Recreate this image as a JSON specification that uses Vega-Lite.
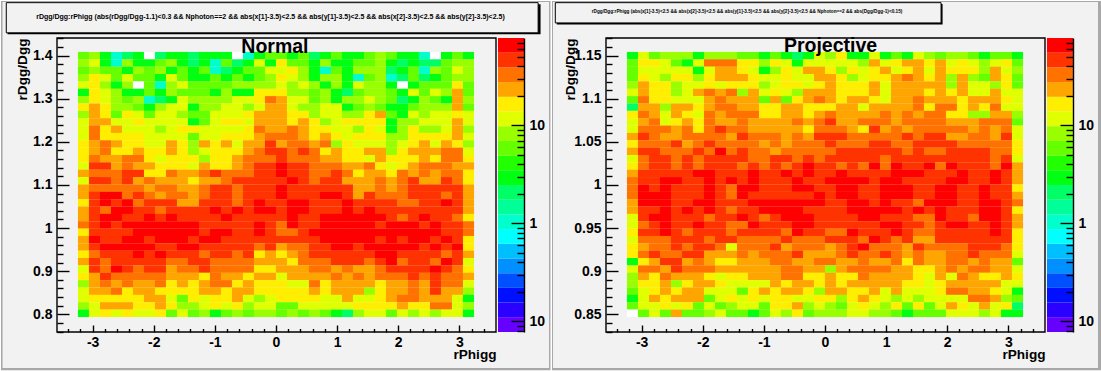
{"$schema":"https://vega.github.io/schema/vega-lite/v6.json","background":"#ffffff","padding":0,"bounds":"flush","spacing":2,
"config":{"view":{"stroke":null},"axis":{"grid":false,"domain":false,"labelFont":"Liberation Sans","labelFontWeight":"bold","labelFontSize":14,"labelColor":"#000","tickColor":"#000","tickWidth":1.4,"titleFont":"Liberation Sans","titleFontWeight":"bold","titleFontSize":13.6,"titleColor":"#000"}},
"datasets":{"one":[{"k":1}],
"a":[
{"i":0,"j":35,"v":6},{"i":1,"j":35,"v":8},{"i":2,"j":35,"v":3},{"i":3,"j":35,"v":1},{"i":4,"j":35,"v":2},{"i":5,"j":35,"v":3},{"i":6,"j":35,"v":0},{"i":7,"j":35,"v":2},{"i":8,"j":35,"v":3},{"i":9,"j":35,"v":3},{"i":10,"j":35,"v":2},{"i":11,"j":35,"v":3},{"i":12,"j":35,"v":3},{"i":13,"j":35,"v":3},{"i":14,"j":35,"v":0},{"i":15,"j":35,"v":1},{"i":16,"j":35,"v":3},{"i":17,"j":35,"v":6},{"i":18,"j":35,"v":6},{"i":19,"j":35,"v":3},{"i":20,"j":35,"v":6},{"i":21,"j":35,"v":2},{"i":22,"j":35,"v":3},{"i":23,"j":35,"v":6},{"i":24,"j":35,"v":3},{"i":25,"j":35,"v":3},{"i":26,"j":35,"v":6},{"i":27,"j":35,"v":8},{"i":28,"j":35,"v":6},{"i":29,"j":35,"v":3},{"i":30,"j":35,"v":3},{"i":31,"j":35,"v":1},{"i":32,"j":35,"v":0},{"i":33,"j":35,"v":3},{"i":34,"j":35,"v":6},{"i":35,"j":35,"v":3},
{"i":0,"j":34,"v":8},{"i":1,"j":34,"v":12},{"i":2,"j":34,"v":3},{"i":3,"j":34,"v":1},{"i":4,"j":34,"v":8},{"i":5,"j":34,"v":3},{"i":6,"j":34,"v":3},{"i":7,"j":34,"v":6},{"i":8,"j":34,"v":8},{"i":9,"j":34,"v":3},{"i":10,"j":34,"v":2},{"i":11,"j":34,"v":3},{"i":12,"j":34,"v":1},{"i":13,"j":34,"v":6},{"i":14,"j":34,"v":2},{"i":15,"j":34,"v":3},{"i":16,"j":34,"v":12},{"i":17,"j":34,"v":3},{"i":18,"j":34,"v":16},{"i":19,"j":34,"v":6},{"i":20,"j":34,"v":6},{"i":21,"j":34,"v":3},{"i":22,"j":34,"v":8},{"i":23,"j":34,"v":3},{"i":24,"j":34,"v":3},{"i":25,"j":34,"v":6},{"i":26,"j":34,"v":6},{"i":27,"j":34,"v":8},{"i":28,"j":34,"v":3},{"i":29,"j":34,"v":2},{"i":30,"j":34,"v":3},{"i":31,"j":34,"v":2},{"i":32,"j":34,"v":2},{"i":33,"j":34,"v":6},{"i":34,"j":34,"v":8},{"i":35,"j":34,"v":8},
{"i":0,"j":33,"v":6},{"i":1,"j":33,"v":8},{"i":2,"j":33,"v":6},{"i":3,"j":33,"v":6},{"i":4,"j":33,"v":3},{"i":5,"j":33,"v":8},{"i":6,"j":33,"v":6},{"i":7,"j":33,"v":8},{"i":8,"j":33,"v":3},{"i":9,"j":33,"v":6},{"i":10,"j":33,"v":3},{"i":11,"j":33,"v":6},{"i":12,"j":33,"v":1},{"i":13,"j":33,"v":2},{"i":14,"j":33,"v":3},{"i":15,"j":33,"v":6},{"i":16,"j":33,"v":6},{"i":17,"j":33,"v":12},{"i":18,"j":33,"v":12},{"i":19,"j":33,"v":16},{"i":20,"j":33,"v":8},{"i":21,"j":33,"v":3},{"i":22,"j":33,"v":1},{"i":23,"j":33,"v":6},{"i":24,"j":33,"v":3},{"i":25,"j":33,"v":8},{"i":26,"j":33,"v":8},{"i":27,"j":33,"v":8},{"i":28,"j":33,"v":2},{"i":29,"j":33,"v":3},{"i":30,"j":33,"v":6},{"i":31,"j":33,"v":1},{"i":32,"j":33,"v":8},{"i":33,"j":33,"v":6},{"i":34,"j":33,"v":12},{"i":35,"j":33,"v":8},
{"i":0,"j":32,"v":8},{"i":1,"j":32,"v":16},{"i":2,"j":32,"v":12},{"i":3,"j":32,"v":6},{"i":4,"j":32,"v":12},{"i":5,"j":32,"v":6},{"i":6,"j":32,"v":6},{"i":7,"j":32,"v":3},{"i":8,"j":32,"v":12},{"i":9,"j":32,"v":6},{"i":10,"j":32,"v":3},{"i":11,"j":32,"v":3},{"i":12,"j":32,"v":6},{"i":13,"j":32,"v":3},{"i":14,"j":32,"v":6},{"i":15,"j":32,"v":3},{"i":16,"j":32,"v":6},{"i":17,"j":32,"v":8},{"i":18,"j":32,"v":16},{"i":19,"j":32,"v":12},{"i":20,"j":32,"v":8},{"i":21,"j":32,"v":3},{"i":22,"j":32,"v":8},{"i":23,"j":32,"v":8},{"i":24,"j":32,"v":3},{"i":25,"j":32,"v":1},{"i":26,"j":32,"v":6},{"i":27,"j":32,"v":8},{"i":28,"j":32,"v":1},{"i":29,"j":32,"v":2},{"i":30,"j":32,"v":6},{"i":31,"j":32,"v":2},{"i":32,"j":32,"v":3},{"i":33,"j":32,"v":6},{"i":34,"j":32,"v":8},{"i":35,"j":32,"v":8},
{"i":0,"j":31,"v":12},{"i":1,"j":31,"v":16},{"i":2,"j":31,"v":8},{"i":3,"j":31,"v":3},{"i":4,"j":31,"v":8},{"i":5,"j":31,"v":0},{"i":6,"j":31,"v":6},{"i":7,"j":31,"v":1},{"i":8,"j":31,"v":8},{"i":9,"j":31,"v":12},{"i":10,"j":31,"v":6},{"i":11,"j":31,"v":6},{"i":12,"j":31,"v":6},{"i":13,"j":31,"v":6},{"i":14,"j":31,"v":8},{"i":15,"j":31,"v":8},{"i":16,"j":31,"v":8},{"i":17,"j":31,"v":8},{"i":18,"j":31,"v":12},{"i":19,"j":31,"v":8},{"i":20,"j":31,"v":12},{"i":21,"j":31,"v":8},{"i":22,"j":31,"v":3},{"i":23,"j":31,"v":8},{"i":24,"j":31,"v":3},{"i":25,"j":31,"v":12},{"i":26,"j":31,"v":8},{"i":27,"j":31,"v":8},{"i":28,"j":31,"v":3},{"i":29,"j":31,"v":0},{"i":30,"j":31,"v":3},{"i":31,"j":31,"v":6},{"i":32,"j":31,"v":6},{"i":33,"j":31,"v":6},{"i":34,"j":31,"v":16},{"i":35,"j":31,"v":6},
{"i":0,"j":30,"v":3},{"i":1,"j":30,"v":16},{"i":2,"j":30,"v":12},{"i":3,"j":30,"v":8},{"i":4,"j":30,"v":3},{"i":5,"j":30,"v":3},{"i":6,"j":30,"v":6},{"i":7,"j":30,"v":3},{"i":8,"j":30,"v":8},{"i":9,"j":30,"v":6},{"i":10,"j":30,"v":6},{"i":11,"j":30,"v":6},{"i":12,"j":30,"v":3},{"i":13,"j":30,"v":8},{"i":14,"j":30,"v":3},{"i":15,"j":30,"v":3},{"i":16,"j":30,"v":16},{"i":17,"j":30,"v":16},{"i":18,"j":30,"v":16},{"i":19,"j":30,"v":8},{"i":20,"j":30,"v":8},{"i":21,"j":30,"v":6},{"i":22,"j":30,"v":8},{"i":23,"j":30,"v":3},{"i":24,"j":30,"v":2},{"i":25,"j":30,"v":6},{"i":26,"j":30,"v":8},{"i":27,"j":30,"v":8},{"i":28,"j":30,"v":6},{"i":29,"j":30,"v":3},{"i":30,"j":30,"v":12},{"i":31,"j":30,"v":6},{"i":32,"j":30,"v":12},{"i":33,"j":30,"v":8},{"i":34,"j":30,"v":23},{"i":35,"j":30,"v":6},
{"i":0,"j":29,"v":8},{"i":1,"j":29,"v":16},{"i":2,"j":29,"v":12},{"i":3,"j":29,"v":8},{"i":4,"j":29,"v":6},{"i":5,"j":29,"v":8},{"i":6,"j":29,"v":1},{"i":7,"j":29,"v":2},{"i":8,"j":29,"v":3},{"i":9,"j":29,"v":12},{"i":10,"j":29,"v":8},{"i":11,"j":29,"v":8},{"i":12,"j":29,"v":8},{"i":13,"j":29,"v":8},{"i":14,"j":29,"v":12},{"i":15,"j":29,"v":12},{"i":16,"j":29,"v":16},{"i":17,"j":29,"v":33},{"i":18,"j":29,"v":23},{"i":19,"j":29,"v":12},{"i":20,"j":29,"v":12},{"i":21,"j":29,"v":6},{"i":22,"j":29,"v":8},{"i":23,"j":29,"v":3},{"i":24,"j":29,"v":8},{"i":25,"j":29,"v":8},{"i":26,"j":29,"v":12},{"i":27,"j":29,"v":8},{"i":28,"j":29,"v":6},{"i":29,"j":29,"v":2},{"i":30,"j":29,"v":3},{"i":31,"j":29,"v":8},{"i":32,"j":29,"v":6},{"i":33,"j":29,"v":3},{"i":34,"j":29,"v":23},{"i":35,"j":29,"v":8},
{"i":0,"j":28,"v":16},{"i":1,"j":28,"v":23},{"i":2,"j":28,"v":16},{"i":3,"j":28,"v":8},{"i":4,"j":28,"v":8},{"i":5,"j":28,"v":6},{"i":6,"j":28,"v":3},{"i":7,"j":28,"v":8},{"i":8,"j":28,"v":12},{"i":9,"j":28,"v":12},{"i":10,"j":28,"v":3},{"i":11,"j":28,"v":8},{"i":12,"j":28,"v":8},{"i":13,"j":28,"v":12},{"i":14,"j":28,"v":12},{"i":15,"j":28,"v":8},{"i":16,"j":28,"v":12},{"i":17,"j":28,"v":23},{"i":18,"j":28,"v":23},{"i":19,"j":28,"v":12},{"i":20,"j":28,"v":8},{"i":21,"j":28,"v":8},{"i":22,"j":28,"v":12},{"i":23,"j":28,"v":12},{"i":24,"j":28,"v":3},{"i":25,"j":28,"v":6},{"i":26,"j":28,"v":8},{"i":27,"j":28,"v":6},{"i":28,"j":28,"v":3},{"i":29,"j":28,"v":3},{"i":30,"j":28,"v":6},{"i":31,"j":28,"v":8},{"i":32,"j":28,"v":8},{"i":33,"j":28,"v":8},{"i":34,"j":28,"v":23},{"i":35,"j":28,"v":6},
{"i":0,"j":27,"v":8},{"i":1,"j":27,"v":23},{"i":2,"j":27,"v":16},{"i":3,"j":27,"v":6},{"i":4,"j":27,"v":16},{"i":5,"j":27,"v":12},{"i":6,"j":27,"v":6},{"i":7,"j":27,"v":12},{"i":8,"j":27,"v":12},{"i":9,"j":27,"v":8},{"i":10,"j":27,"v":6},{"i":11,"j":27,"v":6},{"i":12,"j":27,"v":12},{"i":13,"j":27,"v":12},{"i":14,"j":27,"v":12},{"i":15,"j":27,"v":16},{"i":16,"j":27,"v":23},{"i":17,"j":27,"v":23},{"i":18,"j":27,"v":23},{"i":19,"j":27,"v":16},{"i":20,"j":27,"v":16},{"i":21,"j":27,"v":8},{"i":22,"j":27,"v":12},{"i":23,"j":27,"v":12},{"i":24,"j":27,"v":8},{"i":25,"j":27,"v":8},{"i":26,"j":27,"v":16},{"i":27,"j":27,"v":23},{"i":28,"j":27,"v":6},{"i":29,"j":27,"v":3},{"i":30,"j":27,"v":12},{"i":31,"j":27,"v":8},{"i":32,"j":27,"v":12},{"i":33,"j":27,"v":12},{"i":34,"j":27,"v":16},{"i":35,"j":27,"v":12},
{"i":0,"j":26,"v":12},{"i":1,"j":26,"v":23},{"i":2,"j":26,"v":23},{"i":3,"j":26,"v":12},{"i":4,"j":26,"v":12},{"i":5,"j":26,"v":16},{"i":6,"j":26,"v":12},{"i":7,"j":26,"v":12},{"i":8,"j":26,"v":12},{"i":9,"j":26,"v":12},{"i":10,"j":26,"v":3},{"i":11,"j":26,"v":6},{"i":12,"j":26,"v":12},{"i":13,"j":26,"v":16},{"i":14,"j":26,"v":16},{"i":15,"j":26,"v":12},{"i":16,"j":26,"v":23},{"i":17,"j":26,"v":23},{"i":18,"j":26,"v":23},{"i":19,"j":26,"v":16},{"i":20,"j":26,"v":23},{"i":21,"j":26,"v":16},{"i":22,"j":26,"v":8},{"i":23,"j":26,"v":12},{"i":24,"j":26,"v":16},{"i":25,"j":26,"v":16},{"i":26,"j":26,"v":16},{"i":27,"j":26,"v":16},{"i":28,"j":26,"v":3},{"i":29,"j":26,"v":8},{"i":30,"j":26,"v":8},{"i":31,"j":26,"v":12},{"i":32,"j":26,"v":12},{"i":33,"j":26,"v":12},{"i":34,"j":26,"v":23},{"i":35,"j":26,"v":12},
{"i":0,"j":25,"v":12},{"i":1,"j":25,"v":33},{"i":2,"j":25,"v":16},{"i":3,"j":25,"v":23},{"i":4,"j":25,"v":12},{"i":5,"j":25,"v":12},{"i":6,"j":25,"v":12},{"i":7,"j":25,"v":8},{"i":8,"j":25,"v":12},{"i":9,"j":25,"v":16},{"i":10,"j":25,"v":16},{"i":11,"j":25,"v":12},{"i":12,"j":25,"v":12},{"i":13,"j":25,"v":12},{"i":14,"j":25,"v":12},{"i":15,"j":25,"v":16},{"i":16,"j":25,"v":33},{"i":17,"j":25,"v":23},{"i":18,"j":25,"v":23},{"i":19,"j":25,"v":33},{"i":20,"j":25,"v":23},{"i":21,"j":25,"v":16},{"i":22,"j":25,"v":16},{"i":23,"j":25,"v":12},{"i":24,"j":25,"v":12},{"i":25,"j":25,"v":8},{"i":26,"j":25,"v":16},{"i":27,"j":25,"v":12},{"i":28,"j":25,"v":3},{"i":29,"j":25,"v":8},{"i":30,"j":25,"v":16},{"i":31,"j":25,"v":8},{"i":32,"j":25,"v":8},{"i":33,"j":25,"v":12},{"i":34,"j":25,"v":23},{"i":35,"j":25,"v":8},
{"i":0,"j":24,"v":12},{"i":1,"j":24,"v":33},{"i":2,"j":24,"v":16},{"i":3,"j":24,"v":16},{"i":4,"j":24,"v":16},{"i":5,"j":24,"v":16},{"i":6,"j":24,"v":12},{"i":7,"j":24,"v":12},{"i":8,"j":24,"v":12},{"i":9,"j":24,"v":12},{"i":10,"j":24,"v":6},{"i":11,"j":24,"v":12},{"i":12,"j":24,"v":12},{"i":13,"j":24,"v":16},{"i":14,"j":24,"v":16},{"i":15,"j":24,"v":16},{"i":16,"j":24,"v":23},{"i":17,"j":24,"v":33},{"i":18,"j":24,"v":33},{"i":19,"j":24,"v":33},{"i":20,"j":24,"v":23},{"i":21,"j":24,"v":16},{"i":22,"j":24,"v":23},{"i":23,"j":24,"v":16},{"i":24,"j":24,"v":12},{"i":25,"j":24,"v":16},{"i":26,"j":24,"v":16},{"i":27,"j":24,"v":16},{"i":28,"j":24,"v":8},{"i":29,"j":24,"v":8},{"i":30,"j":24,"v":16},{"i":31,"j":24,"v":16},{"i":32,"j":24,"v":16},{"i":33,"j":24,"v":16},{"i":34,"j":24,"v":23},{"i":35,"j":24,"v":12},
{"i":0,"j":23,"v":16},{"i":1,"j":23,"v":23},{"i":2,"j":23,"v":33},{"i":3,"j":23,"v":23},{"i":4,"j":23,"v":16},{"i":5,"j":23,"v":16},{"i":6,"j":23,"v":12},{"i":7,"j":23,"v":12},{"i":8,"j":23,"v":23},{"i":9,"j":23,"v":16},{"i":10,"j":23,"v":8},{"i":11,"j":23,"v":23},{"i":12,"j":23,"v":16},{"i":13,"j":23,"v":23},{"i":14,"j":23,"v":12},{"i":15,"j":23,"v":23},{"i":16,"j":23,"v":23},{"i":17,"j":23,"v":47},{"i":18,"j":23,"v":23},{"i":19,"j":23,"v":33},{"i":20,"j":23,"v":33},{"i":21,"j":23,"v":23},{"i":22,"j":23,"v":33},{"i":23,"j":23,"v":8},{"i":24,"j":23,"v":16},{"i":25,"j":23,"v":12},{"i":26,"j":23,"v":12},{"i":27,"j":23,"v":12},{"i":28,"j":23,"v":8},{"i":29,"j":23,"v":12},{"i":30,"j":23,"v":16},{"i":31,"j":23,"v":23},{"i":32,"j":23,"v":12},{"i":33,"j":23,"v":23},{"i":34,"j":23,"v":16},{"i":35,"j":23,"v":8},
{"i":0,"j":22,"v":16},{"i":1,"j":22,"v":23},{"i":2,"j":22,"v":33},{"i":3,"j":22,"v":16},{"i":4,"j":22,"v":16},{"i":5,"j":22,"v":23},{"i":6,"j":22,"v":16},{"i":7,"j":22,"v":16},{"i":8,"j":22,"v":23},{"i":9,"j":22,"v":16},{"i":10,"j":22,"v":8},{"i":11,"j":22,"v":12},{"i":12,"j":22,"v":16},{"i":13,"j":22,"v":16},{"i":14,"j":22,"v":16},{"i":15,"j":22,"v":23},{"i":16,"j":22,"v":33},{"i":17,"j":22,"v":47},{"i":18,"j":22,"v":47},{"i":19,"j":22,"v":33},{"i":20,"j":22,"v":47},{"i":21,"j":22,"v":33},{"i":22,"j":22,"v":16},{"i":23,"j":22,"v":23},{"i":24,"j":22,"v":16},{"i":25,"j":22,"v":16},{"i":26,"j":22,"v":23},{"i":27,"j":22,"v":23},{"i":28,"j":22,"v":8},{"i":29,"j":22,"v":16},{"i":30,"j":22,"v":23},{"i":31,"j":22,"v":23},{"i":32,"j":22,"v":23},{"i":33,"j":22,"v":33},{"i":34,"j":22,"v":33},{"i":35,"j":22,"v":12},
{"i":0,"j":21,"v":16},{"i":1,"j":21,"v":33},{"i":2,"j":21,"v":23},{"i":3,"j":21,"v":23},{"i":4,"j":21,"v":33},{"i":5,"j":21,"v":33},{"i":6,"j":21,"v":16},{"i":7,"j":21,"v":12},{"i":8,"j":21,"v":16},{"i":9,"j":21,"v":16},{"i":10,"j":21,"v":16},{"i":11,"j":21,"v":8},{"i":12,"j":21,"v":16},{"i":13,"j":21,"v":16},{"i":14,"j":21,"v":23},{"i":15,"j":21,"v":33},{"i":16,"j":21,"v":33},{"i":17,"j":21,"v":33},{"i":18,"j":21,"v":47},{"i":19,"j":21,"v":33},{"i":20,"j":21,"v":33},{"i":21,"j":21,"v":33},{"i":22,"j":21,"v":23},{"i":23,"j":21,"v":23},{"i":24,"j":21,"v":16},{"i":25,"j":21,"v":16},{"i":26,"j":21,"v":12},{"i":27,"j":21,"v":23},{"i":28,"j":21,"v":16},{"i":29,"j":21,"v":16},{"i":30,"j":21,"v":16},{"i":31,"j":21,"v":23},{"i":32,"j":21,"v":16},{"i":33,"j":21,"v":33},{"i":34,"j":21,"v":33},{"i":35,"j":21,"v":16},
{"i":0,"j":20,"v":12},{"i":1,"j":20,"v":47},{"i":2,"j":20,"v":47},{"i":3,"j":20,"v":23},{"i":4,"j":20,"v":33},{"i":5,"j":20,"v":23},{"i":6,"j":20,"v":23},{"i":7,"j":20,"v":16},{"i":8,"j":20,"v":16},{"i":9,"j":20,"v":16},{"i":10,"j":20,"v":12},{"i":11,"j":20,"v":23},{"i":12,"j":20,"v":16},{"i":13,"j":20,"v":16},{"i":14,"j":20,"v":23},{"i":15,"j":20,"v":33},{"i":16,"j":20,"v":47},{"i":17,"j":20,"v":47},{"i":18,"j":20,"v":66},{"i":19,"j":20,"v":47},{"i":20,"j":20,"v":47},{"i":21,"j":20,"v":33},{"i":22,"j":20,"v":33},{"i":23,"j":20,"v":33},{"i":24,"j":20,"v":23},{"i":25,"j":20,"v":23},{"i":26,"j":20,"v":33},{"i":27,"j":20,"v":16},{"i":28,"j":20,"v":12},{"i":29,"j":20,"v":16},{"i":30,"j":20,"v":23},{"i":31,"j":20,"v":33},{"i":32,"j":20,"v":33},{"i":33,"j":20,"v":33},{"i":34,"j":20,"v":23},{"i":35,"j":20,"v":23},
{"i":0,"j":19,"v":23},{"i":1,"j":19,"v":33},{"i":2,"j":19,"v":33},{"i":3,"j":19,"v":33},{"i":4,"j":19,"v":47},{"i":5,"j":19,"v":47},{"i":6,"j":19,"v":16},{"i":7,"j":19,"v":16},{"i":8,"j":19,"v":33},{"i":9,"j":19,"v":23},{"i":10,"j":19,"v":23},{"i":11,"j":19,"v":33},{"i":12,"j":19,"v":47},{"i":13,"j":19,"v":33},{"i":14,"j":19,"v":33},{"i":15,"j":19,"v":33},{"i":16,"j":19,"v":47},{"i":17,"j":19,"v":47},{"i":18,"j":19,"v":66},{"i":19,"j":19,"v":47},{"i":20,"j":19,"v":47},{"i":21,"j":19,"v":33},{"i":22,"j":19,"v":33},{"i":23,"j":19,"v":47},{"i":24,"j":19,"v":33},{"i":25,"j":19,"v":16},{"i":26,"j":19,"v":23},{"i":27,"j":19,"v":23},{"i":28,"j":19,"v":16},{"i":29,"j":19,"v":33},{"i":30,"j":19,"v":23},{"i":31,"j":19,"v":33},{"i":32,"j":19,"v":23},{"i":33,"j":19,"v":33},{"i":34,"j":19,"v":33},{"i":35,"j":19,"v":16},
{"i":0,"j":18,"v":12},{"i":1,"j":18,"v":47},{"i":2,"j":18,"v":47},{"i":3,"j":18,"v":33},{"i":4,"j":18,"v":47},{"i":5,"j":18,"v":23},{"i":6,"j":18,"v":33},{"i":7,"j":18,"v":23},{"i":8,"j":18,"v":23},{"i":9,"j":18,"v":23},{"i":10,"j":18,"v":16},{"i":11,"j":18,"v":23},{"i":12,"j":18,"v":23},{"i":13,"j":18,"v":33},{"i":14,"j":18,"v":47},{"i":15,"j":18,"v":47},{"i":16,"j":18,"v":47},{"i":17,"j":18,"v":47},{"i":18,"j":18,"v":47},{"i":19,"j":18,"v":66},{"i":20,"j":18,"v":47},{"i":21,"j":18,"v":33},{"i":22,"j":18,"v":47},{"i":23,"j":18,"v":47},{"i":24,"j":18,"v":23},{"i":25,"j":18,"v":23},{"i":26,"j":18,"v":23},{"i":27,"j":18,"v":33},{"i":28,"j":18,"v":23},{"i":29,"j":18,"v":33},{"i":30,"j":18,"v":47},{"i":31,"j":18,"v":23},{"i":32,"j":18,"v":23},{"i":33,"j":18,"v":47},{"i":34,"j":18,"v":33},{"i":35,"j":18,"v":16},
{"i":0,"j":17,"v":23},{"i":1,"j":17,"v":33},{"i":2,"j":17,"v":33},{"i":3,"j":17,"v":33},{"i":4,"j":17,"v":33},{"i":5,"j":17,"v":33},{"i":6,"j":17,"v":23},{"i":7,"j":17,"v":33},{"i":8,"j":17,"v":33},{"i":9,"j":17,"v":23},{"i":10,"j":17,"v":23},{"i":11,"j":17,"v":33},{"i":12,"j":17,"v":47},{"i":13,"j":17,"v":47},{"i":14,"j":17,"v":33},{"i":15,"j":17,"v":47},{"i":16,"j":17,"v":47},{"i":17,"j":17,"v":47},{"i":18,"j":17,"v":66},{"i":19,"j":17,"v":47},{"i":20,"j":17,"v":47},{"i":21,"j":17,"v":47},{"i":22,"j":17,"v":47},{"i":23,"j":17,"v":47},{"i":24,"j":17,"v":47},{"i":25,"j":17,"v":23},{"i":26,"j":17,"v":23},{"i":27,"j":17,"v":33},{"i":28,"j":17,"v":23},{"i":29,"j":17,"v":33},{"i":30,"j":17,"v":47},{"i":31,"j":17,"v":47},{"i":32,"j":17,"v":47},{"i":33,"j":17,"v":47},{"i":34,"j":17,"v":47},{"i":35,"j":17,"v":23},
{"i":0,"j":16,"v":23},{"i":1,"j":16,"v":47},{"i":2,"j":16,"v":66},{"i":3,"j":16,"v":66},{"i":4,"j":16,"v":33},{"i":5,"j":16,"v":47},{"i":6,"j":16,"v":33},{"i":7,"j":16,"v":23},{"i":8,"j":16,"v":33},{"i":9,"j":16,"v":33},{"i":10,"j":16,"v":23},{"i":11,"j":16,"v":33},{"i":12,"j":16,"v":47},{"i":13,"j":16,"v":47},{"i":14,"j":16,"v":33},{"i":15,"j":16,"v":47},{"i":16,"j":16,"v":47},{"i":17,"j":16,"v":47},{"i":18,"j":16,"v":66},{"i":19,"j":16,"v":47},{"i":20,"j":16,"v":47},{"i":21,"j":16,"v":47},{"i":22,"j":16,"v":66},{"i":23,"j":16,"v":66},{"i":24,"j":16,"v":47},{"i":25,"j":16,"v":23},{"i":26,"j":16,"v":47},{"i":27,"j":16,"v":33},{"i":28,"j":16,"v":33},{"i":29,"j":16,"v":33},{"i":30,"j":16,"v":47},{"i":31,"j":16,"v":47},{"i":32,"j":16,"v":47},{"i":33,"j":16,"v":33},{"i":34,"j":16,"v":47},{"i":35,"j":16,"v":23},
{"i":0,"j":15,"v":16},{"i":1,"j":15,"v":47},{"i":2,"j":15,"v":66},{"i":3,"j":15,"v":47},{"i":4,"j":15,"v":66},{"i":5,"j":15,"v":33},{"i":6,"j":15,"v":47},{"i":7,"j":15,"v":47},{"i":8,"j":15,"v":47},{"i":9,"j":15,"v":23},{"i":10,"j":15,"v":23},{"i":11,"j":15,"v":47},{"i":12,"j":15,"v":47},{"i":13,"j":15,"v":47},{"i":14,"j":15,"v":33},{"i":15,"j":15,"v":47},{"i":16,"j":15,"v":66},{"i":17,"j":15,"v":47},{"i":18,"j":15,"v":47},{"i":19,"j":15,"v":66},{"i":20,"j":15,"v":66},{"i":21,"j":15,"v":47},{"i":22,"j":15,"v":47},{"i":23,"j":15,"v":47},{"i":24,"j":15,"v":66},{"i":25,"j":15,"v":47},{"i":26,"j":15,"v":47},{"i":27,"j":15,"v":47},{"i":28,"j":15,"v":47},{"i":29,"j":15,"v":33},{"i":30,"j":15,"v":33},{"i":31,"j":15,"v":47},{"i":32,"j":15,"v":47},{"i":33,"j":15,"v":66},{"i":34,"j":15,"v":47},{"i":35,"j":15,"v":23},
{"i":0,"j":14,"v":23},{"i":1,"j":14,"v":47},{"i":2,"j":14,"v":33},{"i":3,"j":14,"v":66},{"i":4,"j":14,"v":66},{"i":5,"j":14,"v":47},{"i":6,"j":14,"v":47},{"i":7,"j":14,"v":33},{"i":8,"j":14,"v":47},{"i":9,"j":14,"v":47},{"i":10,"j":14,"v":47},{"i":11,"j":14,"v":47},{"i":12,"j":14,"v":66},{"i":13,"j":14,"v":47},{"i":14,"j":14,"v":66},{"i":15,"j":14,"v":47},{"i":16,"j":14,"v":66},{"i":17,"j":14,"v":66},{"i":18,"j":14,"v":47},{"i":19,"j":14,"v":66},{"i":20,"j":14,"v":66},{"i":21,"j":14,"v":47},{"i":22,"j":14,"v":47},{"i":23,"j":14,"v":47},{"i":24,"j":14,"v":66},{"i":25,"j":14,"v":47},{"i":26,"j":14,"v":66},{"i":27,"j":14,"v":47},{"i":28,"j":14,"v":47},{"i":29,"j":14,"v":47},{"i":30,"j":14,"v":47},{"i":31,"j":14,"v":47},{"i":32,"j":14,"v":47},{"i":33,"j":14,"v":47},{"i":34,"j":14,"v":47},{"i":35,"j":14,"v":23},
{"i":0,"j":13,"v":23},{"i":1,"j":13,"v":47},{"i":2,"j":13,"v":66},{"i":3,"j":13,"v":66},{"i":4,"j":13,"v":47},{"i":5,"j":13,"v":47},{"i":6,"j":13,"v":66},{"i":7,"j":13,"v":47},{"i":8,"j":13,"v":66},{"i":9,"j":13,"v":47},{"i":10,"j":13,"v":47},{"i":11,"j":13,"v":47},{"i":12,"j":13,"v":47},{"i":13,"j":13,"v":66},{"i":14,"j":13,"v":47},{"i":15,"j":13,"v":47},{"i":16,"j":13,"v":47},{"i":17,"j":13,"v":47},{"i":18,"j":13,"v":47},{"i":19,"j":13,"v":66},{"i":20,"j":13,"v":47},{"i":21,"j":13,"v":47},{"i":22,"j":13,"v":66},{"i":23,"j":13,"v":66},{"i":24,"j":13,"v":66},{"i":25,"j":13,"v":66},{"i":26,"j":13,"v":66},{"i":27,"j":13,"v":66},{"i":28,"j":13,"v":47},{"i":29,"j":13,"v":33},{"i":30,"j":13,"v":47},{"i":31,"j":13,"v":66},{"i":32,"j":13,"v":47},{"i":33,"j":13,"v":47},{"i":34,"j":13,"v":33},{"i":35,"j":13,"v":16},
{"i":0,"j":12,"v":33},{"i":1,"j":12,"v":47},{"i":2,"j":12,"v":66},{"i":3,"j":12,"v":47},{"i":4,"j":12,"v":66},{"i":5,"j":12,"v":66},{"i":6,"j":12,"v":66},{"i":7,"j":12,"v":66},{"i":8,"j":12,"v":66},{"i":9,"j":12,"v":66},{"i":10,"j":12,"v":66},{"i":11,"j":12,"v":47},{"i":12,"j":12,"v":47},{"i":13,"j":12,"v":47},{"i":14,"j":12,"v":47},{"i":15,"j":12,"v":47},{"i":16,"j":12,"v":66},{"i":17,"j":12,"v":47},{"i":18,"j":12,"v":33},{"i":19,"j":12,"v":66},{"i":20,"j":12,"v":47},{"i":21,"j":12,"v":47},{"i":22,"j":12,"v":66},{"i":23,"j":12,"v":66},{"i":24,"j":12,"v":66},{"i":25,"j":12,"v":66},{"i":26,"j":12,"v":66},{"i":27,"j":12,"v":47},{"i":28,"j":12,"v":66},{"i":29,"j":12,"v":66},{"i":30,"j":12,"v":66},{"i":31,"j":12,"v":47},{"i":32,"j":12,"v":66},{"i":33,"j":12,"v":47},{"i":34,"j":12,"v":47},{"i":35,"j":12,"v":33},
{"i":0,"j":11,"v":16},{"i":1,"j":11,"v":47},{"i":2,"j":11,"v":47},{"i":3,"j":11,"v":47},{"i":4,"j":11,"v":47},{"i":5,"j":11,"v":66},{"i":6,"j":11,"v":66},{"i":7,"j":11,"v":66},{"i":8,"j":11,"v":66},{"i":9,"j":11,"v":66},{"i":10,"j":11,"v":66},{"i":11,"j":11,"v":47},{"i":12,"j":11,"v":66},{"i":13,"j":11,"v":66},{"i":14,"j":11,"v":47},{"i":15,"j":11,"v":47},{"i":16,"j":11,"v":66},{"i":17,"j":11,"v":47},{"i":18,"j":11,"v":33},{"i":19,"j":11,"v":33},{"i":20,"j":11,"v":47},{"i":21,"j":11,"v":66},{"i":22,"j":11,"v":66},{"i":23,"j":11,"v":66},{"i":24,"j":11,"v":66},{"i":25,"j":11,"v":66},{"i":26,"j":11,"v":66},{"i":27,"j":11,"v":66},{"i":28,"j":11,"v":66},{"i":29,"j":11,"v":66},{"i":30,"j":11,"v":66},{"i":31,"j":11,"v":66},{"i":32,"j":11,"v":66},{"i":33,"j":11,"v":47},{"i":34,"j":11,"v":47},{"i":35,"j":11,"v":33},
{"i":0,"j":10,"v":23},{"i":1,"j":10,"v":66},{"i":2,"j":10,"v":47},{"i":3,"j":10,"v":47},{"i":4,"j":10,"v":66},{"i":5,"j":10,"v":66},{"i":6,"j":10,"v":47},{"i":7,"j":10,"v":66},{"i":8,"j":10,"v":66},{"i":9,"j":10,"v":66},{"i":10,"j":10,"v":47},{"i":11,"j":10,"v":66},{"i":12,"j":10,"v":66},{"i":13,"j":10,"v":47},{"i":14,"j":10,"v":47},{"i":15,"j":10,"v":47},{"i":16,"j":10,"v":47},{"i":17,"j":10,"v":47},{"i":18,"j":10,"v":47},{"i":19,"j":10,"v":47},{"i":20,"j":10,"v":47},{"i":21,"j":10,"v":47},{"i":22,"j":10,"v":66},{"i":23,"j":10,"v":66},{"i":24,"j":10,"v":66},{"i":25,"j":10,"v":66},{"i":26,"j":10,"v":66},{"i":27,"j":10,"v":47},{"i":28,"j":10,"v":66},{"i":29,"j":10,"v":47},{"i":30,"j":10,"v":66},{"i":31,"j":10,"v":66},{"i":32,"j":10,"v":47},{"i":33,"j":10,"v":66},{"i":34,"j":10,"v":47},{"i":35,"j":10,"v":16},
{"i":0,"j":9,"v":23},{"i":1,"j":9,"v":47},{"i":2,"j":9,"v":66},{"i":3,"j":9,"v":66},{"i":4,"j":9,"v":66},{"i":5,"j":9,"v":66},{"i":6,"j":9,"v":66},{"i":7,"j":9,"v":47},{"i":8,"j":9,"v":47},{"i":9,"j":9,"v":66},{"i":10,"j":9,"v":66},{"i":11,"j":9,"v":47},{"i":12,"j":9,"v":47},{"i":13,"j":9,"v":47},{"i":14,"j":9,"v":47},{"i":15,"j":9,"v":47},{"i":16,"j":9,"v":33},{"i":17,"j":9,"v":47},{"i":18,"j":9,"v":23},{"i":19,"j":9,"v":33},{"i":20,"j":9,"v":33},{"i":21,"j":9,"v":47},{"i":22,"j":9,"v":47},{"i":23,"j":9,"v":66},{"i":24,"j":9,"v":66},{"i":25,"j":9,"v":47},{"i":26,"j":9,"v":66},{"i":27,"j":9,"v":66},{"i":28,"j":9,"v":66},{"i":29,"j":9,"v":66},{"i":30,"j":9,"v":66},{"i":31,"j":9,"v":47},{"i":32,"j":9,"v":66},{"i":33,"j":9,"v":47},{"i":34,"j":9,"v":66},{"i":35,"j":9,"v":16},
{"i":0,"j":8,"v":16},{"i":1,"j":8,"v":33},{"i":2,"j":8,"v":47},{"i":3,"j":8,"v":47},{"i":4,"j":8,"v":47},{"i":5,"j":8,"v":66},{"i":6,"j":8,"v":47},{"i":7,"j":8,"v":66},{"i":8,"j":8,"v":47},{"i":9,"j":8,"v":47},{"i":10,"j":8,"v":47},{"i":11,"j":8,"v":33},{"i":12,"j":8,"v":47},{"i":13,"j":8,"v":47},{"i":14,"j":8,"v":33},{"i":15,"j":8,"v":47},{"i":16,"j":8,"v":16},{"i":17,"j":8,"v":23},{"i":18,"j":8,"v":16},{"i":19,"j":8,"v":23},{"i":20,"j":8,"v":33},{"i":21,"j":8,"v":47},{"i":22,"j":8,"v":47},{"i":23,"j":8,"v":47},{"i":24,"j":8,"v":47},{"i":25,"j":8,"v":47},{"i":26,"j":8,"v":47},{"i":27,"j":8,"v":66},{"i":28,"j":8,"v":66},{"i":29,"j":8,"v":47},{"i":30,"j":8,"v":47},{"i":31,"j":8,"v":47},{"i":32,"j":8,"v":47},{"i":33,"j":8,"v":33},{"i":34,"j":8,"v":47},{"i":35,"j":8,"v":23},
{"i":0,"j":7,"v":23},{"i":1,"j":7,"v":47},{"i":2,"j":7,"v":33},{"i":3,"j":7,"v":47},{"i":4,"j":7,"v":47},{"i":5,"j":7,"v":47},{"i":6,"j":7,"v":47},{"i":7,"j":7,"v":47},{"i":8,"j":7,"v":33},{"i":9,"j":7,"v":33},{"i":10,"j":7,"v":47},{"i":11,"j":7,"v":47},{"i":12,"j":7,"v":33},{"i":13,"j":7,"v":33},{"i":14,"j":7,"v":33},{"i":15,"j":7,"v":33},{"i":16,"j":7,"v":23},{"i":17,"j":7,"v":23},{"i":18,"j":7,"v":23},{"i":19,"j":7,"v":16},{"i":20,"j":7,"v":33},{"i":21,"j":7,"v":33},{"i":22,"j":7,"v":33},{"i":23,"j":7,"v":47},{"i":24,"j":7,"v":47},{"i":25,"j":7,"v":47},{"i":26,"j":7,"v":33},{"i":27,"j":7,"v":47},{"i":28,"j":7,"v":66},{"i":29,"j":7,"v":33},{"i":30,"j":7,"v":47},{"i":31,"j":7,"v":47},{"i":32,"j":7,"v":33},{"i":33,"j":7,"v":66},{"i":34,"j":7,"v":47},{"i":35,"j":7,"v":12},
{"i":0,"j":6,"v":12},{"i":1,"j":6,"v":47},{"i":2,"j":6,"v":33},{"i":3,"j":6,"v":66},{"i":4,"j":6,"v":47},{"i":5,"j":6,"v":33},{"i":6,"j":6,"v":47},{"i":7,"j":6,"v":47},{"i":8,"j":6,"v":23},{"i":9,"j":6,"v":33},{"i":10,"j":6,"v":33},{"i":11,"j":6,"v":47},{"i":12,"j":6,"v":33},{"i":13,"j":6,"v":33},{"i":14,"j":6,"v":33},{"i":15,"j":6,"v":33},{"i":16,"j":6,"v":16},{"i":17,"j":6,"v":16},{"i":18,"j":6,"v":23},{"i":19,"j":6,"v":23},{"i":20,"j":6,"v":23},{"i":21,"j":6,"v":33},{"i":22,"j":6,"v":33},{"i":23,"j":6,"v":23},{"i":24,"j":6,"v":33},{"i":25,"j":6,"v":23},{"i":26,"j":6,"v":23},{"i":27,"j":6,"v":33},{"i":28,"j":6,"v":47},{"i":29,"j":6,"v":47},{"i":30,"j":6,"v":47},{"i":31,"j":6,"v":47},{"i":32,"j":6,"v":66},{"i":33,"j":6,"v":47},{"i":34,"j":6,"v":33},{"i":35,"j":6,"v":16},
{"i":0,"j":5,"v":16},{"i":1,"j":5,"v":23},{"i":2,"j":5,"v":47},{"i":3,"j":5,"v":33},{"i":4,"j":5,"v":33},{"i":5,"j":5,"v":33},{"i":6,"j":5,"v":33},{"i":7,"j":5,"v":33},{"i":8,"j":5,"v":23},{"i":9,"j":5,"v":23},{"i":10,"j":5,"v":23},{"i":11,"j":5,"v":16},{"i":12,"j":5,"v":33},{"i":13,"j":5,"v":23},{"i":14,"j":5,"v":23},{"i":15,"j":5,"v":16},{"i":16,"j":5,"v":23},{"i":17,"j":5,"v":23},{"i":18,"j":5,"v":12},{"i":19,"j":5,"v":23},{"i":20,"j":5,"v":23},{"i":21,"j":5,"v":23},{"i":22,"j":5,"v":23},{"i":23,"j":5,"v":33},{"i":24,"j":5,"v":23},{"i":25,"j":5,"v":33},{"i":26,"j":5,"v":23},{"i":27,"j":5,"v":33},{"i":28,"j":5,"v":33},{"i":29,"j":5,"v":33},{"i":30,"j":5,"v":47},{"i":31,"j":5,"v":33},{"i":32,"j":5,"v":47},{"i":33,"j":5,"v":33},{"i":34,"j":5,"v":33},{"i":35,"j":5,"v":23},
{"i":0,"j":4,"v":8},{"i":1,"j":4,"v":23},{"i":2,"j":4,"v":33},{"i":3,"j":4,"v":23},{"i":4,"j":4,"v":33},{"i":5,"j":4,"v":23},{"i":6,"j":4,"v":23},{"i":7,"j":4,"v":33},{"i":8,"j":4,"v":16},{"i":9,"j":4,"v":23},{"i":10,"j":4,"v":16},{"i":11,"j":4,"v":23},{"i":12,"j":4,"v":33},{"i":13,"j":4,"v":33},{"i":14,"j":4,"v":16},{"i":15,"j":4,"v":23},{"i":16,"j":4,"v":16},{"i":17,"j":4,"v":16},{"i":18,"j":4,"v":16},{"i":19,"j":4,"v":12},{"i":20,"j":4,"v":12},{"i":21,"j":4,"v":33},{"i":22,"j":4,"v":16},{"i":23,"j":4,"v":23},{"i":24,"j":4,"v":23},{"i":25,"j":4,"v":23},{"i":26,"j":4,"v":23},{"i":27,"j":4,"v":16},{"i":28,"j":4,"v":23},{"i":29,"j":4,"v":23},{"i":30,"j":4,"v":33},{"i":31,"j":4,"v":23},{"i":32,"j":4,"v":47},{"i":33,"j":4,"v":33},{"i":34,"j":4,"v":33},{"i":35,"j":4,"v":12},
{"i":0,"j":3,"v":12},{"i":1,"j":3,"v":23},{"i":2,"j":3,"v":23},{"i":3,"j":3,"v":33},{"i":4,"j":3,"v":16},{"i":5,"j":3,"v":23},{"i":6,"j":3,"v":23},{"i":7,"j":3,"v":16},{"i":8,"j":3,"v":16},{"i":9,"j":3,"v":16},{"i":10,"j":3,"v":16},{"i":11,"j":3,"v":23},{"i":12,"j":3,"v":23},{"i":13,"j":3,"v":16},{"i":14,"j":3,"v":23},{"i":15,"j":3,"v":23},{"i":16,"j":3,"v":16},{"i":17,"j":3,"v":16},{"i":18,"j":3,"v":16},{"i":19,"j":3,"v":16},{"i":20,"j":3,"v":16},{"i":21,"j":3,"v":23},{"i":22,"j":3,"v":16},{"i":23,"j":3,"v":23},{"i":24,"j":3,"v":23},{"i":25,"j":3,"v":23},{"i":26,"j":3,"v":8},{"i":27,"j":3,"v":16},{"i":28,"j":3,"v":23},{"i":29,"j":3,"v":23},{"i":30,"j":3,"v":33},{"i":31,"j":3,"v":23},{"i":32,"j":3,"v":47},{"i":33,"j":3,"v":23},{"i":34,"j":3,"v":23},{"i":35,"j":3,"v":8},
{"i":0,"j":2,"v":12},{"i":1,"j":2,"v":16},{"i":2,"j":2,"v":16},{"i":3,"j":2,"v":16},{"i":4,"j":2,"v":16},{"i":5,"j":2,"v":16},{"i":6,"j":2,"v":23},{"i":7,"j":2,"v":23},{"i":8,"j":2,"v":12},{"i":9,"j":2,"v":6},{"i":10,"j":2,"v":16},{"i":11,"j":2,"v":12},{"i":12,"j":2,"v":16},{"i":13,"j":2,"v":16},{"i":14,"j":2,"v":23},{"i":15,"j":2,"v":12},{"i":16,"j":2,"v":8},{"i":17,"j":2,"v":12},{"i":18,"j":2,"v":16},{"i":19,"j":2,"v":16},{"i":20,"j":2,"v":16},{"i":21,"j":2,"v":16},{"i":22,"j":2,"v":12},{"i":23,"j":2,"v":12},{"i":24,"j":2,"v":23},{"i":25,"j":2,"v":12},{"i":26,"j":2,"v":12},{"i":27,"j":2,"v":16},{"i":28,"j":2,"v":23},{"i":29,"j":2,"v":33},{"i":30,"j":2,"v":33},{"i":31,"j":2,"v":23},{"i":32,"j":2,"v":23},{"i":33,"j":2,"v":23},{"i":34,"j":2,"v":12},{"i":35,"j":2,"v":3},
{"i":0,"j":1,"v":8},{"i":1,"j":1,"v":12},{"i":2,"j":1,"v":23},{"i":3,"j":1,"v":23},{"i":4,"j":1,"v":23},{"i":5,"j":1,"v":16},{"i":6,"j":1,"v":16},{"i":7,"j":1,"v":23},{"i":8,"j":1,"v":16},{"i":9,"j":1,"v":8},{"i":10,"j":1,"v":8},{"i":11,"j":1,"v":12},{"i":12,"j":1,"v":16},{"i":13,"j":1,"v":12},{"i":14,"j":1,"v":16},{"i":15,"j":1,"v":8},{"i":16,"j":1,"v":12},{"i":17,"j":1,"v":12},{"i":18,"j":1,"v":6},{"i":19,"j":1,"v":6},{"i":20,"j":1,"v":12},{"i":21,"j":1,"v":12},{"i":22,"j":1,"v":12},{"i":23,"j":1,"v":12},{"i":24,"j":1,"v":12},{"i":25,"j":1,"v":16},{"i":26,"j":1,"v":16},{"i":27,"j":1,"v":16},{"i":28,"j":1,"v":16},{"i":29,"j":1,"v":23},{"i":30,"j":1,"v":16},{"i":31,"j":1,"v":16},{"i":32,"j":1,"v":33},{"i":33,"j":1,"v":33},{"i":34,"j":1,"v":12},{"i":35,"j":1,"v":8},
{"i":0,"j":0,"v":3},{"i":1,"j":0,"v":12},{"i":2,"j":0,"v":16},{"i":3,"j":0,"v":12},{"i":4,"j":0,"v":16},{"i":5,"j":0,"v":12},{"i":6,"j":0,"v":12},{"i":7,"j":0,"v":16},{"i":8,"j":0,"v":6},{"i":9,"j":0,"v":12},{"i":10,"j":0,"v":6},{"i":11,"j":0,"v":8},{"i":12,"j":0,"v":3},{"i":13,"j":0,"v":6},{"i":14,"j":0,"v":8},{"i":15,"j":0,"v":6},{"i":16,"j":0,"v":8},{"i":17,"j":0,"v":8},{"i":18,"j":0,"v":6},{"i":19,"j":0,"v":8},{"i":20,"j":0,"v":6},{"i":21,"j":0,"v":8},{"i":22,"j":0,"v":6},{"i":23,"j":0,"v":3},{"i":24,"j":0,"v":2},{"i":25,"j":0,"v":8},{"i":26,"j":0,"v":12},{"i":27,"j":0,"v":12},{"i":28,"j":0,"v":6},{"i":29,"j":0,"v":12},{"i":30,"j":0,"v":8},{"i":31,"j":0,"v":12},{"i":32,"j":0,"v":8},{"i":33,"j":0,"v":12},{"i":34,"j":0,"v":12},{"i":35,"j":0,"v":3}
],
"b":[
{"i":0,"j":35,"v":3},{"i":1,"j":35,"v":12},{"i":2,"j":35,"v":6},{"i":3,"j":35,"v":8},{"i":4,"j":35,"v":8},{"i":5,"j":35,"v":8},{"i":6,"j":35,"v":3},{"i":7,"j":35,"v":8},{"i":8,"j":35,"v":8},{"i":9,"j":35,"v":8},{"i":10,"j":35,"v":6},{"i":11,"j":35,"v":6},{"i":12,"j":35,"v":3},{"i":13,"j":35,"v":6},{"i":14,"j":35,"v":3},{"i":15,"j":35,"v":2},{"i":16,"j":35,"v":3},{"i":17,"j":35,"v":12},{"i":18,"j":35,"v":8},{"i":19,"j":35,"v":16},{"i":20,"j":35,"v":3},{"i":21,"j":35,"v":3},{"i":22,"j":35,"v":12},{"i":23,"j":35,"v":3},{"i":24,"j":35,"v":6},{"i":25,"j":35,"v":3},{"i":26,"j":35,"v":12},{"i":27,"j":35,"v":8},{"i":28,"j":35,"v":6},{"i":29,"j":35,"v":8},{"i":30,"j":35,"v":8},{"i":31,"j":35,"v":6},{"i":32,"j":35,"v":3},{"i":33,"j":35,"v":6},{"i":34,"j":35,"v":6},{"i":35,"j":35,"v":3},
{"i":0,"j":34,"v":6},{"i":1,"j":34,"v":16},{"i":2,"j":34,"v":16},{"i":3,"j":34,"v":12},{"i":4,"j":34,"v":6},{"i":5,"j":34,"v":3},{"i":6,"j":34,"v":12},{"i":7,"j":34,"v":33},{"i":8,"j":34,"v":33},{"i":9,"j":34,"v":33},{"i":10,"j":34,"v":16},{"i":11,"j":34,"v":16},{"i":12,"j":34,"v":8},{"i":13,"j":34,"v":16},{"i":14,"j":34,"v":12},{"i":15,"j":34,"v":3},{"i":16,"j":34,"v":12},{"i":17,"j":34,"v":12},{"i":18,"j":34,"v":12},{"i":19,"j":34,"v":12},{"i":20,"j":34,"v":12},{"i":21,"j":34,"v":8},{"i":22,"j":34,"v":23},{"i":23,"j":34,"v":12},{"i":24,"j":34,"v":16},{"i":25,"j":34,"v":23},{"i":26,"j":34,"v":23},{"i":27,"j":34,"v":16},{"i":28,"j":34,"v":23},{"i":29,"j":34,"v":12},{"i":30,"j":34,"v":16},{"i":31,"j":34,"v":12},{"i":32,"j":34,"v":8},{"i":33,"j":34,"v":12},{"i":34,"j":34,"v":16},{"i":35,"j":34,"v":6},
{"i":0,"j":33,"v":6},{"i":1,"j":33,"v":12},{"i":2,"j":33,"v":12},{"i":3,"j":33,"v":12},{"i":4,"j":33,"v":12},{"i":5,"j":33,"v":12},{"i":6,"j":33,"v":3},{"i":7,"j":33,"v":12},{"i":8,"j":33,"v":23},{"i":9,"j":33,"v":23},{"i":10,"j":33,"v":16},{"i":11,"j":33,"v":12},{"i":12,"j":33,"v":3},{"i":13,"j":33,"v":8},{"i":14,"j":33,"v":16},{"i":15,"j":33,"v":12},{"i":16,"j":33,"v":23},{"i":17,"j":33,"v":23},{"i":18,"j":33,"v":16},{"i":19,"j":33,"v":8},{"i":20,"j":33,"v":16},{"i":21,"j":33,"v":12},{"i":22,"j":33,"v":16},{"i":23,"j":33,"v":23},{"i":24,"j":33,"v":12},{"i":25,"j":33,"v":16},{"i":26,"j":33,"v":23},{"i":27,"j":33,"v":12},{"i":28,"j":33,"v":23},{"i":29,"j":33,"v":16},{"i":30,"j":33,"v":16},{"i":31,"j":33,"v":16},{"i":32,"j":33,"v":8},{"i":33,"j":33,"v":23},{"i":34,"j":33,"v":12},{"i":35,"j":33,"v":8},
{"i":0,"j":32,"v":6},{"i":1,"j":32,"v":16},{"i":2,"j":32,"v":12},{"i":3,"j":32,"v":8},{"i":4,"j":32,"v":16},{"i":5,"j":32,"v":16},{"i":6,"j":32,"v":8},{"i":7,"j":32,"v":16},{"i":8,"j":32,"v":23},{"i":9,"j":32,"v":23},{"i":10,"j":32,"v":23},{"i":11,"j":32,"v":16},{"i":12,"j":32,"v":12},{"i":13,"j":32,"v":12},{"i":14,"j":32,"v":16},{"i":15,"j":32,"v":12},{"i":16,"j":32,"v":12},{"i":17,"j":32,"v":23},{"i":18,"j":32,"v":23},{"i":19,"j":32,"v":16},{"i":20,"j":32,"v":8},{"i":21,"j":32,"v":12},{"i":22,"j":32,"v":16},{"i":23,"j":32,"v":16},{"i":24,"j":32,"v":23},{"i":25,"j":32,"v":33},{"i":26,"j":32,"v":23},{"i":27,"j":32,"v":16},{"i":28,"j":32,"v":23},{"i":29,"j":32,"v":8},{"i":30,"j":32,"v":23},{"i":31,"j":32,"v":8},{"i":32,"j":32,"v":6},{"i":33,"j":32,"v":23},{"i":34,"j":32,"v":16},{"i":35,"j":32,"v":6},
{"i":0,"j":31,"v":8},{"i":1,"j":31,"v":23},{"i":2,"j":31,"v":16},{"i":3,"j":31,"v":16},{"i":4,"j":31,"v":8},{"i":5,"j":31,"v":12},{"i":6,"j":31,"v":12},{"i":7,"j":31,"v":16},{"i":8,"j":31,"v":12},{"i":9,"j":31,"v":16},{"i":10,"j":31,"v":16},{"i":11,"j":31,"v":16},{"i":12,"j":31,"v":8},{"i":13,"j":31,"v":12},{"i":14,"j":31,"v":16},{"i":15,"j":31,"v":16},{"i":16,"j":31,"v":12},{"i":17,"j":31,"v":16},{"i":18,"j":31,"v":23},{"i":19,"j":31,"v":16},{"i":20,"j":31,"v":16},{"i":21,"j":31,"v":16},{"i":22,"j":31,"v":23},{"i":23,"j":31,"v":12},{"i":24,"j":31,"v":23},{"i":25,"j":31,"v":23},{"i":26,"j":31,"v":23},{"i":27,"j":31,"v":23},{"i":28,"j":31,"v":23},{"i":29,"j":31,"v":8},{"i":30,"j":31,"v":23},{"i":31,"j":31,"v":12},{"i":32,"j":31,"v":12},{"i":33,"j":31,"v":8},{"i":34,"j":31,"v":16},{"i":35,"j":31,"v":6},
{"i":0,"j":30,"v":12},{"i":1,"j":30,"v":23},{"i":2,"j":30,"v":16},{"i":3,"j":30,"v":16},{"i":4,"j":30,"v":8},{"i":5,"j":30,"v":12},{"i":6,"j":30,"v":23},{"i":7,"j":30,"v":33},{"i":8,"j":30,"v":23},{"i":9,"j":30,"v":33},{"i":10,"j":30,"v":8},{"i":11,"j":30,"v":23},{"i":12,"j":30,"v":12},{"i":13,"j":30,"v":16},{"i":14,"j":30,"v":12},{"i":15,"j":30,"v":8},{"i":16,"j":30,"v":23},{"i":17,"j":30,"v":23},{"i":18,"j":30,"v":23},{"i":19,"j":30,"v":16},{"i":20,"j":30,"v":16},{"i":21,"j":30,"v":16},{"i":22,"j":30,"v":23},{"i":23,"j":30,"v":12},{"i":24,"j":30,"v":23},{"i":25,"j":30,"v":23},{"i":26,"j":30,"v":23},{"i":27,"j":30,"v":16},{"i":28,"j":30,"v":23},{"i":29,"j":30,"v":16},{"i":30,"j":30,"v":23},{"i":31,"j":30,"v":12},{"i":32,"j":30,"v":12},{"i":33,"j":30,"v":23},{"i":34,"j":30,"v":12},{"i":35,"j":30,"v":12},
{"i":0,"j":29,"v":6},{"i":1,"j":29,"v":33},{"i":2,"j":29,"v":16},{"i":3,"j":29,"v":16},{"i":4,"j":29,"v":12},{"i":5,"j":29,"v":12},{"i":6,"j":29,"v":12},{"i":7,"j":29,"v":23},{"i":8,"j":29,"v":33},{"i":9,"j":29,"v":23},{"i":10,"j":29,"v":23},{"i":11,"j":29,"v":23},{"i":12,"j":29,"v":6},{"i":13,"j":29,"v":23},{"i":14,"j":29,"v":6},{"i":15,"j":29,"v":16},{"i":16,"j":29,"v":23},{"i":17,"j":29,"v":33},{"i":18,"j":29,"v":23},{"i":19,"j":29,"v":16},{"i":20,"j":29,"v":23},{"i":21,"j":29,"v":23},{"i":22,"j":29,"v":16},{"i":23,"j":29,"v":12},{"i":24,"j":29,"v":23},{"i":25,"j":29,"v":23},{"i":26,"j":29,"v":33},{"i":27,"j":29,"v":23},{"i":28,"j":29,"v":23},{"i":29,"j":29,"v":23},{"i":30,"j":29,"v":16},{"i":31,"j":29,"v":23},{"i":32,"j":29,"v":23},{"i":33,"j":29,"v":23},{"i":34,"j":29,"v":16},{"i":35,"j":29,"v":12},
{"i":0,"j":28,"v":2},{"i":1,"j":28,"v":23},{"i":2,"j":28,"v":23},{"i":3,"j":28,"v":8},{"i":4,"j":28,"v":23},{"i":5,"j":28,"v":23},{"i":6,"j":28,"v":16},{"i":7,"j":28,"v":23},{"i":8,"j":28,"v":33},{"i":9,"j":28,"v":33},{"i":10,"j":28,"v":23},{"i":11,"j":28,"v":23},{"i":12,"j":28,"v":16},{"i":13,"j":28,"v":16},{"i":14,"j":28,"v":23},{"i":15,"j":28,"v":23},{"i":16,"j":28,"v":16},{"i":17,"j":28,"v":16},{"i":18,"j":28,"v":16},{"i":19,"j":28,"v":23},{"i":20,"j":28,"v":23},{"i":21,"j":28,"v":12},{"i":22,"j":28,"v":23},{"i":23,"j":28,"v":23},{"i":24,"j":28,"v":23},{"i":25,"j":28,"v":23},{"i":26,"j":28,"v":33},{"i":27,"j":28,"v":16},{"i":28,"j":28,"v":33},{"i":29,"j":28,"v":33},{"i":30,"j":28,"v":16},{"i":31,"j":28,"v":23},{"i":32,"j":28,"v":16},{"i":33,"j":28,"v":33},{"i":34,"j":28,"v":12},{"i":35,"j":28,"v":12},
{"i":0,"j":27,"v":16},{"i":1,"j":27,"v":33},{"i":2,"j":27,"v":23},{"i":3,"j":27,"v":12},{"i":4,"j":27,"v":23},{"i":5,"j":27,"v":16},{"i":6,"j":27,"v":12},{"i":7,"j":27,"v":33},{"i":8,"j":27,"v":23},{"i":9,"j":27,"v":33},{"i":10,"j":27,"v":33},{"i":11,"j":27,"v":33},{"i":12,"j":27,"v":16},{"i":13,"j":27,"v":16},{"i":14,"j":27,"v":23},{"i":15,"j":27,"v":23},{"i":16,"j":27,"v":16},{"i":17,"j":27,"v":23},{"i":18,"j":27,"v":33},{"i":19,"j":27,"v":23},{"i":20,"j":27,"v":23},{"i":21,"j":27,"v":23},{"i":22,"j":27,"v":23},{"i":23,"j":27,"v":33},{"i":24,"j":27,"v":23},{"i":25,"j":27,"v":33},{"i":26,"j":27,"v":23},{"i":27,"j":27,"v":33},{"i":28,"j":27,"v":33},{"i":29,"j":27,"v":16},{"i":30,"j":27,"v":16},{"i":31,"j":27,"v":8},{"i":32,"j":27,"v":8},{"i":33,"j":27,"v":23},{"i":34,"j":27,"v":23},{"i":35,"j":27,"v":8},
{"i":0,"j":26,"v":12},{"i":1,"j":26,"v":23},{"i":2,"j":26,"v":33},{"i":3,"j":26,"v":12},{"i":4,"j":26,"v":16},{"i":5,"j":26,"v":23},{"i":6,"j":26,"v":16},{"i":7,"j":26,"v":33},{"i":8,"j":26,"v":23},{"i":9,"j":26,"v":23},{"i":10,"j":26,"v":33},{"i":11,"j":26,"v":23},{"i":12,"j":26,"v":23},{"i":13,"j":26,"v":23},{"i":14,"j":26,"v":23},{"i":15,"j":26,"v":33},{"i":16,"j":26,"v":23},{"i":17,"j":26,"v":33},{"i":18,"j":26,"v":47},{"i":19,"j":26,"v":23},{"i":20,"j":26,"v":23},{"i":21,"j":26,"v":33},{"i":22,"j":26,"v":33},{"i":23,"j":26,"v":33},{"i":24,"j":26,"v":23},{"i":25,"j":26,"v":33},{"i":26,"j":26,"v":33},{"i":27,"j":26,"v":33},{"i":28,"j":26,"v":33},{"i":29,"j":26,"v":23},{"i":30,"j":26,"v":23},{"i":31,"j":26,"v":23},{"i":32,"j":26,"v":33},{"i":33,"j":26,"v":33},{"i":34,"j":26,"v":33},{"i":35,"j":26,"v":6},
{"i":0,"j":25,"v":12},{"i":1,"j":25,"v":33},{"i":2,"j":25,"v":33},{"i":3,"j":25,"v":33},{"i":4,"j":25,"v":23},{"i":5,"j":25,"v":33},{"i":6,"j":25,"v":16},{"i":7,"j":25,"v":33},{"i":8,"j":25,"v":47},{"i":9,"j":25,"v":33},{"i":10,"j":25,"v":33},{"i":11,"j":25,"v":23},{"i":12,"j":25,"v":23},{"i":13,"j":25,"v":23},{"i":14,"j":25,"v":23},{"i":15,"j":25,"v":23},{"i":16,"j":25,"v":16},{"i":17,"j":25,"v":33},{"i":18,"j":25,"v":33},{"i":19,"j":25,"v":33},{"i":20,"j":25,"v":23},{"i":21,"j":25,"v":16},{"i":22,"j":25,"v":47},{"i":23,"j":25,"v":23},{"i":24,"j":25,"v":33},{"i":25,"j":25,"v":23},{"i":26,"j":25,"v":33},{"i":27,"j":25,"v":33},{"i":28,"j":25,"v":33},{"i":29,"j":25,"v":33},{"i":30,"j":25,"v":33},{"i":31,"j":25,"v":23},{"i":32,"j":25,"v":33},{"i":33,"j":25,"v":23},{"i":34,"j":25,"v":33},{"i":35,"j":25,"v":12},
{"i":0,"j":24,"v":23},{"i":1,"j":24,"v":47},{"i":2,"j":24,"v":33},{"i":3,"j":24,"v":23},{"i":4,"j":24,"v":23},{"i":5,"j":24,"v":33},{"i":6,"j":24,"v":33},{"i":7,"j":24,"v":33},{"i":8,"j":24,"v":33},{"i":9,"j":24,"v":23},{"i":10,"j":24,"v":47},{"i":11,"j":24,"v":33},{"i":12,"j":24,"v":33},{"i":13,"j":24,"v":33},{"i":14,"j":24,"v":23},{"i":15,"j":24,"v":33},{"i":16,"j":24,"v":23},{"i":17,"j":24,"v":47},{"i":18,"j":24,"v":47},{"i":19,"j":24,"v":47},{"i":20,"j":24,"v":33},{"i":21,"j":24,"v":33},{"i":22,"j":24,"v":33},{"i":23,"j":24,"v":33},{"i":24,"j":24,"v":33},{"i":25,"j":24,"v":47},{"i":26,"j":24,"v":33},{"i":27,"j":24,"v":47},{"i":28,"j":24,"v":47},{"i":29,"j":24,"v":23},{"i":30,"j":24,"v":23},{"i":31,"j":24,"v":33},{"i":32,"j":24,"v":33},{"i":33,"j":24,"v":23},{"i":34,"j":24,"v":47},{"i":35,"j":24,"v":12},
{"i":0,"j":23,"v":16},{"i":1,"j":23,"v":33},{"i":2,"j":23,"v":33},{"i":3,"j":23,"v":33},{"i":4,"j":23,"v":47},{"i":5,"j":23,"v":23},{"i":6,"j":23,"v":33},{"i":7,"j":23,"v":47},{"i":8,"j":23,"v":33},{"i":9,"j":23,"v":33},{"i":10,"j":23,"v":33},{"i":11,"j":23,"v":33},{"i":12,"j":23,"v":23},{"i":13,"j":23,"v":33},{"i":14,"j":23,"v":23},{"i":15,"j":23,"v":33},{"i":16,"j":23,"v":33},{"i":17,"j":23,"v":33},{"i":18,"j":23,"v":47},{"i":19,"j":23,"v":33},{"i":20,"j":23,"v":33},{"i":21,"j":23,"v":33},{"i":22,"j":23,"v":47},{"i":23,"j":23,"v":47},{"i":24,"j":23,"v":33},{"i":25,"j":23,"v":33},{"i":26,"j":23,"v":47},{"i":27,"j":23,"v":47},{"i":28,"j":23,"v":47},{"i":29,"j":23,"v":47},{"i":30,"j":23,"v":33},{"i":31,"j":23,"v":33},{"i":32,"j":23,"v":33},{"i":33,"j":23,"v":33},{"i":34,"j":23,"v":33},{"i":35,"j":23,"v":16},
{"i":0,"j":22,"v":23},{"i":1,"j":22,"v":47},{"i":2,"j":22,"v":47},{"i":3,"j":22,"v":33},{"i":4,"j":22,"v":33},{"i":5,"j":22,"v":33},{"i":6,"j":22,"v":47},{"i":7,"j":22,"v":33},{"i":8,"j":22,"v":66},{"i":9,"j":22,"v":33},{"i":10,"j":22,"v":47},{"i":11,"j":22,"v":33},{"i":12,"j":22,"v":33},{"i":13,"j":22,"v":23},{"i":14,"j":22,"v":33},{"i":15,"j":22,"v":33},{"i":16,"j":22,"v":33},{"i":17,"j":22,"v":33},{"i":18,"j":22,"v":33},{"i":19,"j":22,"v":47},{"i":20,"j":22,"v":47},{"i":21,"j":22,"v":47},{"i":22,"j":22,"v":47},{"i":23,"j":22,"v":47},{"i":24,"j":22,"v":47},{"i":25,"j":22,"v":33},{"i":26,"j":22,"v":47},{"i":27,"j":22,"v":33},{"i":28,"j":22,"v":33},{"i":29,"j":22,"v":47},{"i":30,"j":22,"v":47},{"i":31,"j":22,"v":47},{"i":32,"j":22,"v":47},{"i":33,"j":22,"v":33},{"i":34,"j":22,"v":33},{"i":35,"j":22,"v":16},
{"i":0,"j":21,"v":12},{"i":1,"j":21,"v":33},{"i":2,"j":21,"v":47},{"i":3,"j":21,"v":47},{"i":4,"j":21,"v":33},{"i":5,"j":21,"v":47},{"i":6,"j":21,"v":33},{"i":7,"j":21,"v":47},{"i":8,"j":21,"v":47},{"i":9,"j":21,"v":47},{"i":10,"j":21,"v":47},{"i":11,"j":21,"v":33},{"i":12,"j":21,"v":33},{"i":13,"j":21,"v":47},{"i":14,"j":21,"v":47},{"i":15,"j":21,"v":33},{"i":16,"j":21,"v":47},{"i":17,"j":21,"v":33},{"i":18,"j":21,"v":47},{"i":19,"j":21,"v":47},{"i":20,"j":21,"v":47},{"i":21,"j":21,"v":47},{"i":22,"j":21,"v":47},{"i":23,"j":21,"v":33},{"i":24,"j":21,"v":47},{"i":25,"j":21,"v":47},{"i":26,"j":21,"v":47},{"i":27,"j":21,"v":47},{"i":28,"j":21,"v":47},{"i":29,"j":21,"v":47},{"i":30,"j":21,"v":47},{"i":31,"j":21,"v":47},{"i":32,"j":21,"v":47},{"i":33,"j":21,"v":33},{"i":34,"j":21,"v":47},{"i":35,"j":21,"v":12},
{"i":0,"j":20,"v":16},{"i":1,"j":20,"v":33},{"i":2,"j":20,"v":47},{"i":3,"j":20,"v":47},{"i":4,"j":20,"v":33},{"i":5,"j":20,"v":47},{"i":6,"j":20,"v":33},{"i":7,"j":20,"v":47},{"i":8,"j":20,"v":47},{"i":9,"j":20,"v":47},{"i":10,"j":20,"v":33},{"i":11,"j":20,"v":47},{"i":12,"j":20,"v":33},{"i":13,"j":20,"v":47},{"i":14,"j":20,"v":33},{"i":15,"j":20,"v":47},{"i":16,"j":20,"v":66},{"i":17,"j":20,"v":47},{"i":18,"j":20,"v":47},{"i":19,"j":20,"v":33},{"i":20,"j":20,"v":47},{"i":21,"j":20,"v":33},{"i":22,"j":20,"v":66},{"i":23,"j":20,"v":33},{"i":24,"j":20,"v":66},{"i":25,"j":20,"v":47},{"i":26,"j":20,"v":47},{"i":27,"j":20,"v":66},{"i":28,"j":20,"v":33},{"i":29,"j":20,"v":66},{"i":30,"j":20,"v":47},{"i":31,"j":20,"v":47},{"i":32,"j":20,"v":47},{"i":33,"j":20,"v":33},{"i":34,"j":20,"v":66},{"i":35,"j":20,"v":23},
{"i":0,"j":19,"v":23},{"i":1,"j":19,"v":47},{"i":2,"j":19,"v":47},{"i":3,"j":19,"v":47},{"i":4,"j":19,"v":47},{"i":5,"j":19,"v":47},{"i":6,"j":19,"v":66},{"i":7,"j":19,"v":66},{"i":8,"j":19,"v":47},{"i":9,"j":19,"v":47},{"i":10,"j":19,"v":47},{"i":11,"j":19,"v":66},{"i":12,"j":19,"v":47},{"i":13,"j":19,"v":47},{"i":14,"j":19,"v":66},{"i":15,"j":19,"v":47},{"i":16,"j":19,"v":66},{"i":17,"j":19,"v":47},{"i":18,"j":19,"v":47},{"i":19,"j":19,"v":66},{"i":20,"j":19,"v":47},{"i":21,"j":19,"v":47},{"i":22,"j":19,"v":47},{"i":23,"j":19,"v":47},{"i":24,"j":19,"v":66},{"i":25,"j":19,"v":66},{"i":26,"j":19,"v":66},{"i":27,"j":19,"v":47},{"i":28,"j":19,"v":47},{"i":29,"j":19,"v":47},{"i":30,"j":19,"v":66},{"i":31,"j":19,"v":47},{"i":32,"j":19,"v":47},{"i":33,"j":19,"v":66},{"i":34,"j":19,"v":47},{"i":35,"j":19,"v":23},
{"i":0,"j":18,"v":33},{"i":1,"j":18,"v":47},{"i":2,"j":18,"v":47},{"i":3,"j":18,"v":66},{"i":4,"j":18,"v":66},{"i":5,"j":18,"v":47},{"i":6,"j":18,"v":47},{"i":7,"j":18,"v":66},{"i":8,"j":18,"v":47},{"i":9,"j":18,"v":66},{"i":10,"j":18,"v":47},{"i":11,"j":18,"v":66},{"i":12,"j":18,"v":47},{"i":13,"j":18,"v":47},{"i":14,"j":18,"v":47},{"i":15,"j":18,"v":66},{"i":16,"j":18,"v":47},{"i":17,"j":18,"v":47},{"i":18,"j":18,"v":66},{"i":19,"j":18,"v":66},{"i":20,"j":18,"v":66},{"i":21,"j":18,"v":66},{"i":22,"j":18,"v":47},{"i":23,"j":18,"v":66},{"i":24,"j":18,"v":66},{"i":25,"j":18,"v":47},{"i":26,"j":18,"v":47},{"i":27,"j":18,"v":47},{"i":28,"j":18,"v":47},{"i":29,"j":18,"v":66},{"i":30,"j":18,"v":66},{"i":31,"j":18,"v":47},{"i":32,"j":18,"v":47},{"i":33,"j":18,"v":66},{"i":34,"j":18,"v":47},{"i":35,"j":18,"v":23},
{"i":0,"j":17,"v":33},{"i":1,"j":17,"v":66},{"i":2,"j":17,"v":47},{"i":3,"j":17,"v":66},{"i":4,"j":17,"v":47},{"i":5,"j":17,"v":47},{"i":6,"j":17,"v":47},{"i":7,"j":17,"v":66},{"i":8,"j":17,"v":47},{"i":9,"j":17,"v":33},{"i":10,"j":17,"v":66},{"i":11,"j":17,"v":66},{"i":12,"j":17,"v":47},{"i":13,"j":17,"v":47},{"i":14,"j":17,"v":47},{"i":15,"j":17,"v":66},{"i":16,"j":17,"v":66},{"i":17,"j":17,"v":47},{"i":18,"j":17,"v":47},{"i":19,"j":17,"v":66},{"i":20,"j":17,"v":66},{"i":21,"j":17,"v":47},{"i":22,"j":17,"v":47},{"i":23,"j":17,"v":66},{"i":24,"j":17,"v":66},{"i":25,"j":17,"v":66},{"i":26,"j":17,"v":47},{"i":27,"j":17,"v":47},{"i":28,"j":17,"v":66},{"i":29,"j":17,"v":66},{"i":30,"j":17,"v":47},{"i":31,"j":17,"v":47},{"i":32,"j":17,"v":66},{"i":33,"j":17,"v":47},{"i":34,"j":17,"v":47},{"i":35,"j":17,"v":16},
{"i":0,"j":16,"v":33},{"i":1,"j":16,"v":66},{"i":2,"j":16,"v":66},{"i":3,"j":16,"v":66},{"i":4,"j":16,"v":47},{"i":5,"j":16,"v":47},{"i":6,"j":16,"v":47},{"i":7,"j":16,"v":66},{"i":8,"j":16,"v":47},{"i":9,"j":16,"v":33},{"i":10,"j":16,"v":66},{"i":11,"j":16,"v":47},{"i":12,"j":16,"v":47},{"i":13,"j":16,"v":47},{"i":14,"j":16,"v":47},{"i":15,"j":16,"v":47},{"i":16,"j":16,"v":47},{"i":17,"j":16,"v":66},{"i":18,"j":16,"v":47},{"i":19,"j":16,"v":66},{"i":20,"j":16,"v":66},{"i":21,"j":16,"v":47},{"i":22,"j":16,"v":47},{"i":23,"j":16,"v":66},{"i":24,"j":16,"v":66},{"i":25,"j":16,"v":66},{"i":26,"j":16,"v":47},{"i":27,"j":16,"v":47},{"i":28,"j":16,"v":66},{"i":29,"j":16,"v":66},{"i":30,"j":16,"v":47},{"i":31,"j":16,"v":47},{"i":32,"j":16,"v":66},{"i":33,"j":16,"v":47},{"i":34,"j":16,"v":47},{"i":35,"j":16,"v":23},
{"i":0,"j":15,"v":23},{"i":1,"j":15,"v":66},{"i":2,"j":15,"v":66},{"i":3,"j":15,"v":66},{"i":4,"j":15,"v":47},{"i":5,"j":15,"v":47},{"i":6,"j":15,"v":66},{"i":7,"j":15,"v":66},{"i":8,"j":15,"v":47},{"i":9,"j":15,"v":47},{"i":10,"j":15,"v":47},{"i":11,"j":15,"v":66},{"i":12,"j":15,"v":66},{"i":13,"j":15,"v":66},{"i":14,"j":15,"v":66},{"i":15,"j":15,"v":66},{"i":16,"j":15,"v":66},{"i":17,"j":15,"v":66},{"i":18,"j":15,"v":47},{"i":19,"j":15,"v":47},{"i":20,"j":15,"v":66},{"i":21,"j":15,"v":66},{"i":22,"j":15,"v":47},{"i":23,"j":15,"v":66},{"i":24,"j":15,"v":47},{"i":25,"j":15,"v":47},{"i":26,"j":15,"v":33},{"i":27,"j":15,"v":66},{"i":28,"j":15,"v":66},{"i":29,"j":15,"v":66},{"i":30,"j":15,"v":47},{"i":31,"j":15,"v":47},{"i":32,"j":15,"v":66},{"i":33,"j":15,"v":66},{"i":34,"j":15,"v":47},{"i":35,"j":15,"v":33},
{"i":0,"j":14,"v":23},{"i":1,"j":14,"v":47},{"i":2,"j":14,"v":47},{"i":3,"j":14,"v":66},{"i":4,"j":14,"v":47},{"i":5,"j":14,"v":66},{"i":6,"j":14,"v":47},{"i":7,"j":14,"v":66},{"i":8,"j":14,"v":47},{"i":9,"j":14,"v":33},{"i":10,"j":14,"v":47},{"i":11,"j":14,"v":47},{"i":12,"j":14,"v":66},{"i":13,"j":14,"v":66},{"i":14,"j":14,"v":66},{"i":15,"j":14,"v":66},{"i":16,"j":14,"v":47},{"i":17,"j":14,"v":47},{"i":18,"j":14,"v":47},{"i":19,"j":14,"v":47},{"i":20,"j":14,"v":66},{"i":21,"j":14,"v":66},{"i":22,"j":14,"v":66},{"i":23,"j":14,"v":66},{"i":24,"j":14,"v":66},{"i":25,"j":14,"v":47},{"i":26,"j":14,"v":66},{"i":27,"j":14,"v":47},{"i":28,"j":14,"v":66},{"i":29,"j":14,"v":47},{"i":30,"j":14,"v":47},{"i":31,"j":14,"v":47},{"i":32,"j":14,"v":66},{"i":33,"j":14,"v":66},{"i":34,"j":14,"v":47},{"i":35,"j":14,"v":16},
{"i":0,"j":13,"v":12},{"i":1,"j":13,"v":47},{"i":2,"j":13,"v":66},{"i":3,"j":13,"v":66},{"i":4,"j":13,"v":47},{"i":5,"j":13,"v":47},{"i":6,"j":13,"v":47},{"i":7,"j":13,"v":33},{"i":8,"j":13,"v":47},{"i":9,"j":13,"v":47},{"i":10,"j":13,"v":66},{"i":11,"j":13,"v":47},{"i":12,"j":13,"v":33},{"i":13,"j":13,"v":47},{"i":14,"j":13,"v":66},{"i":15,"j":13,"v":66},{"i":16,"j":13,"v":66},{"i":17,"j":13,"v":47},{"i":18,"j":13,"v":47},{"i":19,"j":13,"v":47},{"i":20,"j":13,"v":47},{"i":21,"j":13,"v":66},{"i":22,"j":13,"v":66},{"i":23,"j":13,"v":47},{"i":24,"j":13,"v":47},{"i":25,"j":13,"v":47},{"i":26,"j":13,"v":33},{"i":27,"j":13,"v":33},{"i":28,"j":13,"v":66},{"i":29,"j":13,"v":47},{"i":30,"j":13,"v":47},{"i":31,"j":13,"v":33},{"i":32,"j":13,"v":66},{"i":33,"j":13,"v":66},{"i":34,"j":13,"v":47},{"i":35,"j":13,"v":23},
{"i":0,"j":12,"v":12},{"i":1,"j":12,"v":33},{"i":2,"j":12,"v":47},{"i":3,"j":12,"v":66},{"i":4,"j":12,"v":47},{"i":5,"j":12,"v":47},{"i":6,"j":12,"v":66},{"i":7,"j":12,"v":47},{"i":8,"j":12,"v":47},{"i":9,"j":12,"v":33},{"i":10,"j":12,"v":33},{"i":11,"j":12,"v":66},{"i":12,"j":12,"v":47},{"i":13,"j":12,"v":47},{"i":14,"j":12,"v":47},{"i":15,"j":12,"v":66},{"i":16,"j":12,"v":66},{"i":17,"j":12,"v":47},{"i":18,"j":12,"v":47},{"i":19,"j":12,"v":47},{"i":20,"j":12,"v":47},{"i":21,"j":12,"v":47},{"i":22,"j":12,"v":47},{"i":23,"j":12,"v":66},{"i":24,"j":12,"v":66},{"i":25,"j":12,"v":47},{"i":26,"j":12,"v":47},{"i":27,"j":12,"v":33},{"i":28,"j":12,"v":47},{"i":29,"j":12,"v":66},{"i":30,"j":12,"v":66},{"i":31,"j":12,"v":47},{"i":32,"j":12,"v":47},{"i":33,"j":12,"v":66},{"i":34,"j":12,"v":47},{"i":35,"j":12,"v":23},
{"i":0,"j":11,"v":16},{"i":1,"j":11,"v":47},{"i":2,"j":11,"v":47},{"i":3,"j":11,"v":66},{"i":4,"j":11,"v":47},{"i":5,"j":11,"v":33},{"i":6,"j":11,"v":47},{"i":7,"j":11,"v":47},{"i":8,"j":11,"v":47},{"i":9,"j":11,"v":33},{"i":10,"j":11,"v":47},{"i":11,"j":11,"v":47},{"i":12,"j":11,"v":47},{"i":13,"j":11,"v":47},{"i":14,"j":11,"v":33},{"i":15,"j":11,"v":66},{"i":16,"j":11,"v":47},{"i":17,"j":11,"v":47},{"i":18,"j":11,"v":33},{"i":19,"j":11,"v":33},{"i":20,"j":11,"v":66},{"i":21,"j":11,"v":47},{"i":22,"j":11,"v":47},{"i":23,"j":11,"v":47},{"i":24,"j":11,"v":66},{"i":25,"j":11,"v":47},{"i":26,"j":11,"v":33},{"i":27,"j":11,"v":33},{"i":28,"j":11,"v":47},{"i":29,"j":11,"v":47},{"i":30,"j":11,"v":47},{"i":31,"j":11,"v":47},{"i":32,"j":11,"v":47},{"i":33,"j":11,"v":66},{"i":34,"j":11,"v":47},{"i":35,"j":11,"v":16},
{"i":0,"j":10,"v":12},{"i":1,"j":10,"v":33},{"i":2,"j":10,"v":33},{"i":3,"j":10,"v":33},{"i":4,"j":10,"v":47},{"i":5,"j":10,"v":47},{"i":6,"j":10,"v":47},{"i":7,"j":10,"v":33},{"i":8,"j":10,"v":47},{"i":9,"j":10,"v":47},{"i":10,"j":10,"v":33},{"i":11,"j":10,"v":33},{"i":12,"j":10,"v":33},{"i":13,"j":10,"v":33},{"i":14,"j":10,"v":47},{"i":15,"j":10,"v":33},{"i":16,"j":10,"v":33},{"i":17,"j":10,"v":33},{"i":18,"j":10,"v":47},{"i":19,"j":10,"v":47},{"i":20,"j":10,"v":47},{"i":21,"j":10,"v":33},{"i":22,"j":10,"v":66},{"i":23,"j":10,"v":47},{"i":24,"j":10,"v":33},{"i":25,"j":10,"v":47},{"i":26,"j":10,"v":23},{"i":27,"j":10,"v":23},{"i":28,"j":10,"v":47},{"i":29,"j":10,"v":47},{"i":30,"j":10,"v":47},{"i":31,"j":10,"v":47},{"i":32,"j":10,"v":47},{"i":33,"j":10,"v":47},{"i":34,"j":10,"v":47},{"i":35,"j":10,"v":16},
{"i":0,"j":9,"v":16},{"i":1,"j":9,"v":23},{"i":2,"j":9,"v":33},{"i":3,"j":9,"v":33},{"i":4,"j":9,"v":47},{"i":5,"j":9,"v":33},{"i":6,"j":9,"v":47},{"i":7,"j":9,"v":47},{"i":8,"j":9,"v":33},{"i":9,"j":9,"v":12},{"i":10,"j":9,"v":33},{"i":11,"j":9,"v":33},{"i":12,"j":9,"v":33},{"i":13,"j":9,"v":47},{"i":14,"j":9,"v":23},{"i":15,"j":9,"v":33},{"i":16,"j":9,"v":33},{"i":17,"j":9,"v":33},{"i":18,"j":9,"v":23},{"i":19,"j":9,"v":33},{"i":20,"j":9,"v":47},{"i":21,"j":9,"v":66},{"i":22,"j":9,"v":33},{"i":23,"j":9,"v":33},{"i":24,"j":9,"v":33},{"i":25,"j":9,"v":23},{"i":26,"j":9,"v":47},{"i":27,"j":9,"v":33},{"i":28,"j":9,"v":33},{"i":29,"j":9,"v":33},{"i":30,"j":9,"v":33},{"i":31,"j":9,"v":47},{"i":32,"j":9,"v":47},{"i":33,"j":9,"v":47},{"i":34,"j":9,"v":33},{"i":35,"j":9,"v":16},
{"i":0,"j":8,"v":16},{"i":1,"j":8,"v":33},{"i":2,"j":8,"v":47},{"i":3,"j":8,"v":33},{"i":4,"j":8,"v":33},{"i":5,"j":8,"v":47},{"i":6,"j":8,"v":47},{"i":7,"j":8,"v":23},{"i":8,"j":8,"v":23},{"i":9,"j":8,"v":23},{"i":10,"j":8,"v":33},{"i":11,"j":8,"v":23},{"i":12,"j":8,"v":33},{"i":13,"j":8,"v":33},{"i":14,"j":8,"v":33},{"i":15,"j":8,"v":47},{"i":16,"j":8,"v":23},{"i":17,"j":8,"v":23},{"i":18,"j":8,"v":23},{"i":19,"j":8,"v":33},{"i":20,"j":8,"v":47},{"i":21,"j":8,"v":33},{"i":22,"j":8,"v":33},{"i":23,"j":8,"v":47},{"i":24,"j":8,"v":33},{"i":25,"j":8,"v":23},{"i":26,"j":8,"v":33},{"i":27,"j":8,"v":23},{"i":28,"j":8,"v":23},{"i":29,"j":8,"v":33},{"i":30,"j":8,"v":33},{"i":31,"j":8,"v":47},{"i":32,"j":8,"v":33},{"i":33,"j":8,"v":33},{"i":34,"j":8,"v":33},{"i":35,"j":8,"v":12},
{"i":0,"j":7,"v":3},{"i":1,"j":7,"v":16},{"i":2,"j":7,"v":23},{"i":3,"j":7,"v":47},{"i":4,"j":7,"v":47},{"i":5,"j":7,"v":23},{"i":6,"j":7,"v":33},{"i":7,"j":7,"v":23},{"i":8,"j":7,"v":16},{"i":9,"j":7,"v":16},{"i":10,"j":7,"v":23},{"i":11,"j":7,"v":23},{"i":12,"j":7,"v":23},{"i":13,"j":7,"v":33},{"i":14,"j":7,"v":33},{"i":15,"j":7,"v":23},{"i":16,"j":7,"v":23},{"i":17,"j":7,"v":33},{"i":18,"j":7,"v":33},{"i":19,"j":7,"v":23},{"i":20,"j":7,"v":23},{"i":21,"j":7,"v":33},{"i":22,"j":7,"v":23},{"i":23,"j":7,"v":23},{"i":24,"j":7,"v":33},{"i":25,"j":7,"v":16},{"i":26,"j":7,"v":33},{"i":27,"j":7,"v":23},{"i":28,"j":7,"v":23},{"i":29,"j":7,"v":33},{"i":30,"j":7,"v":33},{"i":31,"j":7,"v":23},{"i":32,"j":7,"v":33},{"i":33,"j":7,"v":23},{"i":34,"j":7,"v":23},{"i":35,"j":7,"v":6},
{"i":0,"j":6,"v":12},{"i":1,"j":6,"v":33},{"i":2,"j":6,"v":33},{"i":3,"j":6,"v":23},{"i":4,"j":6,"v":47},{"i":5,"j":6,"v":33},{"i":6,"j":6,"v":33},{"i":7,"j":6,"v":33},{"i":8,"j":6,"v":23},{"i":9,"j":6,"v":23},{"i":10,"j":6,"v":23},{"i":11,"j":6,"v":23},{"i":12,"j":6,"v":23},{"i":13,"j":6,"v":23},{"i":14,"j":6,"v":33},{"i":15,"j":6,"v":33},{"i":16,"j":6,"v":23},{"i":17,"j":6,"v":23},{"i":18,"j":6,"v":8},{"i":19,"j":6,"v":23},{"i":20,"j":6,"v":33},{"i":21,"j":6,"v":33},{"i":22,"j":6,"v":33},{"i":23,"j":6,"v":33},{"i":24,"j":6,"v":23},{"i":25,"j":6,"v":23},{"i":26,"j":6,"v":16},{"i":27,"j":6,"v":16},{"i":28,"j":6,"v":23},{"i":29,"j":6,"v":33},{"i":30,"j":6,"v":23},{"i":31,"j":6,"v":33},{"i":32,"j":6,"v":33},{"i":33,"j":6,"v":23},{"i":34,"j":6,"v":23},{"i":35,"j":6,"v":12},
{"i":0,"j":5,"v":8},{"i":1,"j":5,"v":23},{"i":2,"j":5,"v":16},{"i":3,"j":5,"v":33},{"i":4,"j":5,"v":23},{"i":5,"j":5,"v":23},{"i":6,"j":5,"v":23},{"i":7,"j":5,"v":16},{"i":8,"j":5,"v":12},{"i":9,"j":5,"v":16},{"i":10,"j":5,"v":16},{"i":11,"j":5,"v":23},{"i":12,"j":5,"v":23},{"i":13,"j":5,"v":23},{"i":14,"j":5,"v":33},{"i":15,"j":5,"v":33},{"i":16,"j":5,"v":16},{"i":17,"j":5,"v":16},{"i":18,"j":5,"v":23},{"i":19,"j":5,"v":16},{"i":20,"j":5,"v":16},{"i":21,"j":5,"v":33},{"i":22,"j":5,"v":23},{"i":23,"j":5,"v":23},{"i":24,"j":5,"v":23},{"i":25,"j":5,"v":23},{"i":26,"j":5,"v":16},{"i":27,"j":5,"v":12},{"i":28,"j":5,"v":23},{"i":29,"j":5,"v":12},{"i":30,"j":5,"v":33},{"i":31,"j":5,"v":23},{"i":32,"j":5,"v":16},{"i":33,"j":5,"v":16},{"i":34,"j":5,"v":23},{"i":35,"j":5,"v":16},
{"i":0,"j":4,"v":8},{"i":1,"j":4,"v":16},{"i":2,"j":4,"v":16},{"i":3,"j":4,"v":23},{"i":4,"j":4,"v":8},{"i":5,"j":4,"v":16},{"i":6,"j":4,"v":23},{"i":7,"j":4,"v":23},{"i":8,"j":4,"v":16},{"i":9,"j":4,"v":12},{"i":10,"j":4,"v":12},{"i":11,"j":4,"v":12},{"i":12,"j":4,"v":12},{"i":13,"j":4,"v":23},{"i":14,"j":4,"v":16},{"i":15,"j":4,"v":23},{"i":16,"j":4,"v":23},{"i":17,"j":4,"v":16},{"i":18,"j":4,"v":23},{"i":19,"j":4,"v":16},{"i":20,"j":4,"v":23},{"i":21,"j":4,"v":23},{"i":22,"j":4,"v":23},{"i":23,"j":4,"v":23},{"i":24,"j":4,"v":23},{"i":25,"j":4,"v":16},{"i":26,"j":4,"v":16},{"i":27,"j":4,"v":12},{"i":28,"j":4,"v":16},{"i":29,"j":4,"v":23},{"i":30,"j":4,"v":23},{"i":31,"j":4,"v":23},{"i":32,"j":4,"v":23},{"i":33,"j":4,"v":23},{"i":34,"j":4,"v":12},{"i":35,"j":4,"v":12},
{"i":0,"j":3,"v":6},{"i":1,"j":3,"v":12},{"i":2,"j":3,"v":16},{"i":3,"j":3,"v":23},{"i":4,"j":3,"v":16},{"i":5,"j":3,"v":23},{"i":6,"j":3,"v":23},{"i":7,"j":3,"v":12},{"i":8,"j":3,"v":12},{"i":9,"j":3,"v":12},{"i":10,"j":3,"v":6},{"i":11,"j":3,"v":16},{"i":12,"j":3,"v":23},{"i":13,"j":3,"v":16},{"i":14,"j":3,"v":23},{"i":15,"j":3,"v":23},{"i":16,"j":3,"v":16},{"i":17,"j":3,"v":8},{"i":18,"j":3,"v":23},{"i":19,"j":3,"v":23},{"i":20,"j":3,"v":16},{"i":21,"j":3,"v":16},{"i":22,"j":3,"v":23},{"i":23,"j":3,"v":12},{"i":24,"j":3,"v":23},{"i":25,"j":3,"v":12},{"i":26,"j":3,"v":12},{"i":27,"j":3,"v":12},{"i":28,"j":3,"v":16},{"i":29,"j":3,"v":33},{"i":30,"j":3,"v":33},{"i":31,"j":3,"v":23},{"i":32,"j":3,"v":23},{"i":33,"j":3,"v":16},{"i":34,"j":3,"v":12},{"i":35,"j":3,"v":3},
{"i":0,"j":2,"v":3},{"i":1,"j":2,"v":12},{"i":2,"j":2,"v":23},{"i":3,"j":2,"v":16},{"i":4,"j":2,"v":23},{"i":5,"j":2,"v":23},{"i":6,"j":2,"v":23},{"i":7,"j":2,"v":6},{"i":8,"j":2,"v":12},{"i":9,"j":2,"v":16},{"i":10,"j":2,"v":12},{"i":11,"j":2,"v":16},{"i":12,"j":2,"v":12},{"i":13,"j":2,"v":16},{"i":14,"j":2,"v":16},{"i":15,"j":2,"v":12},{"i":16,"j":2,"v":12},{"i":17,"j":2,"v":16},{"i":18,"j":2,"v":16},{"i":19,"j":2,"v":8},{"i":20,"j":2,"v":16},{"i":21,"j":2,"v":23},{"i":22,"j":2,"v":16},{"i":23,"j":2,"v":12},{"i":24,"j":2,"v":8},{"i":25,"j":2,"v":12},{"i":26,"j":2,"v":8},{"i":27,"j":2,"v":12},{"i":28,"j":2,"v":12},{"i":29,"j":2,"v":12},{"i":30,"j":2,"v":12},{"i":31,"j":2,"v":33},{"i":32,"j":2,"v":33},{"i":33,"j":2,"v":23},{"i":34,"j":2,"v":8},{"i":35,"j":2,"v":6},
{"i":0,"j":1,"v":6},{"i":1,"j":1,"v":12},{"i":2,"j":1,"v":12},{"i":3,"j":1,"v":16},{"i":4,"j":1,"v":12},{"i":5,"j":1,"v":16},{"i":6,"j":1,"v":6},{"i":7,"j":1,"v":12},{"i":8,"j":1,"v":6},{"i":9,"j":1,"v":8},{"i":10,"j":1,"v":12},{"i":11,"j":1,"v":12},{"i":12,"j":1,"v":6},{"i":13,"j":1,"v":16},{"i":14,"j":1,"v":16},{"i":15,"j":1,"v":23},{"i":16,"j":1,"v":8},{"i":17,"j":1,"v":12},{"i":18,"j":1,"v":8},{"i":19,"j":1,"v":6},{"i":20,"j":1,"v":12},{"i":21,"j":1,"v":16},{"i":22,"j":1,"v":12},{"i":23,"j":1,"v":8},{"i":24,"j":1,"v":16},{"i":25,"j":1,"v":6},{"i":26,"j":1,"v":16},{"i":27,"j":1,"v":6},{"i":28,"j":1,"v":12},{"i":29,"j":1,"v":23},{"i":30,"j":1,"v":16},{"i":31,"j":1,"v":12},{"i":32,"j":1,"v":23},{"i":33,"j":1,"v":12},{"i":34,"j":1,"v":16},{"i":35,"j":1,"v":2},
{"i":0,"j":0,"v":0},{"i":1,"j":0,"v":6},{"i":2,"j":0,"v":12},{"i":3,"j":0,"v":6},{"i":4,"j":0,"v":23},{"i":5,"j":0,"v":6},{"i":6,"j":0,"v":6},{"i":7,"j":0,"v":8},{"i":8,"j":0,"v":12},{"i":9,"j":0,"v":6},{"i":10,"j":0,"v":6},{"i":11,"j":0,"v":3},{"i":12,"j":0,"v":6},{"i":13,"j":0,"v":12},{"i":14,"j":0,"v":8},{"i":15,"j":0,"v":16},{"i":16,"j":0,"v":6},{"i":17,"j":0,"v":8},{"i":18,"j":0,"v":8},{"i":19,"j":0,"v":8},{"i":20,"j":0,"v":12},{"i":21,"j":0,"v":12},{"i":22,"j":0,"v":8},{"i":23,"j":0,"v":8},{"i":24,"j":0,"v":6},{"i":25,"j":0,"v":3},{"i":26,"j":0,"v":6},{"i":27,"j":0,"v":6},{"i":28,"j":0,"v":6},{"i":29,"j":0,"v":12},{"i":30,"j":0,"v":12},{"i":31,"j":0,"v":12},{"i":32,"j":0,"v":8},{"i":33,"j":0,"v":12},{"i":34,"j":0,"v":3},{"i":35,"j":0,"v":3}
],
"lev":[{"lo":0.0776,"hi":0.11,"v":0.09},{"lo":0.11,"hi":0.155,"v":0.13},{"lo":0.155,"hi":0.219,"v":0.18},{"lo":0.219,"hi":0.309,"v":0.26},{"lo":0.309,"hi":0.437,"v":0.37},{"lo":0.437,"hi":0.618,"v":0.52},{"lo":0.618,"hi":0.873,"v":0.73},{"lo":0.873,"hi":1.233,"v":1},{"lo":1.233,"hi":1.742,"v":1.5},{"lo":1.742,"hi":2.46,"v":2},{"lo":2.46,"hi":3.48,"v":3},{"lo":3.48,"hi":4.91,"v":4},{"lo":4.91,"hi":6.94,"v":6},{"lo":6.94,"hi":9.81,"v":8},{"lo":9.81,"hi":13.9,"v":12},{"lo":13.9,"hi":19.6,"v":16},{"lo":19.6,"hi":27.7,"v":23},{"lo":27.7,"hi":39.1,"v":33},{"lo":39.1,"hi":55.3,"v":47},{"lo":55.3,"hi":78.1,"v":66}]},
"hconcat":[
{"width":439,"height":294,"data":{"name":"one"},"resolve":{"axis":{"x":"independent","y":"independent"}},"layer":[
{"mark":{"type":"rect","fill":"#fff"},"encoding":{"x":{"datum":-7.5,"type":"quantitative","scale":{"domain":[-2.409,37.5],"nice":false,"zero":false},"axis":null},"x2":{"datum":42.5},"y":{"datum":42.44,"type":"quantitative","scale":{"domain":[-2.54,37.4],"nice":false,"zero":false},"axis":null},"y2":{"datum":-7.97}}},
{"mark":{"type":"rect","fill":"#a8a8a8"},"encoding":{"x":{"datum":-7.5,"type":"quantitative","scale":{"domain":[-2.409,37.5],"nice":false,"zero":false},"axis":null},"x2":{"datum":42.45},"y":{"datum":42.44,"type":"quantitative","scale":{"domain":[-2.54,37.4],"nice":false,"zero":false},"axis":null},"y2":{"datum":-7.75}}},
{"mark":{"type":"rect","fill":"#f2f2f2"},"encoding":{"x":{"datum":-7.36,"type":"quantitative","scale":{"domain":[-2.409,37.5],"nice":false,"zero":false},"axis":null},"x2":{"datum":42.32},"y":{"datum":42.3,"type":"quantitative","scale":{"domain":[-2.54,37.4],"nice":false,"zero":false},"axis":null},"y2":{"datum":-7.44}}},
{"mark":{"type":"rect","fill":"#000"},"encoding":{"x":{"datum":-6.9,"type":"quantitative","scale":{"domain":[-2.409,37.5],"nice":false,"zero":false},"axis":null},"x2":{"datum":41.55},"y":{"datum":42.0,"type":"quantitative","scale":{"domain":[-2.54,37.4],"nice":false,"zero":false},"axis":null},"y2":{"datum":37.9}}},
{"mark":{"type":"rect","fill":"#f2f2f2","stroke":"#000","strokeWidth":1},"encoding":{"x":{"datum":-7.02,"type":"quantitative","scale":{"domain":[-2.409,37.5],"nice":false,"zero":false},"axis":null},"x2":{"datum":41.33},"y":{"datum":42.2,"type":"quantitative","scale":{"domain":[-2.54,37.4],"nice":false,"zero":false},"axis":null},"y2":{"datum":38.1}}},
{"mark":{"type":"text","font":"Liberation Sans","fontWeight":"bold","fontSize":7,"text":"rDgg/Dgg:rPhigg (abs(rDgg/Dgg-1.1)<0.3 && Nphoton==2 && abs(x[1]-3.5)<2.5 && abs(y[1]-3.5)<2.5 && abs(x[2]-3.5)<2.5 && abs(y[2]-3.5)<2.5)"},"encoding":{"x":{"datum":17,"type":"quantitative","scale":{"domain":[-2.409,37.5],"nice":false,"zero":false},"axis":null},"y":{"datum":40.25,"type":"quantitative","scale":{"domain":[-2.54,37.4],"nice":false,"zero":false},"axis":null}}},
{"data":{"name":"a"},"mark":{"type":"rect","width":11.1,"height":7.5},"encoding":{"x":{"field":"i","type":"quantitative","scale":{"domain":[-2.409,37.5],"nice":false,"zero":false},"title":"rPhigg","axis":{"orient":"bottom","zindex":1,"values":[0.833,6.389,11.944,17.5,23.056,28.611,34.167],"tickSize":-7,"labelPadding":10,"labelExpr":"toString(round((datum.value+0.5)*0.18-3.24))","titleAnchor":"end","titleBaseline":"alphabetic","titleY":26}},"y":{"field":"j","type":"quantitative","scale":{"domain":[-2.54,37.4],"nice":false,"zero":false},"title":"rDgg/Dgg","axis":{"orient":"left","zindex":1,"values":[-0.133,5.723,11.579,17.435,23.291,29.147,35.003],"tickSize":-12,"labelPadding":17,"labelExpr":"toString(round((0.8+(datum.value+0.133)/58.56)*10)/10)","titleAnchor":"end","titleBaseline":"alphabetic","titleX":-31}},"color":{"field":"v","type":"quantitative","legend":null,"scale":{"type":"threshold","domain":[0.05,0.11,0.155,0.219,0.309,0.437,0.618,0.873,1.233,1.742,2.46,3.48,4.91,6.94,9.81,13.9,19.6,27.7,39.1,55.3],"range":["#ffffff","#6600ff","#2a00ff","#0010ff","#0050ff","#0090ff","#00bfff","#00ffff","#00ffcc","#00ff99","#00ff66","#00ff11","#22ff00","#66ff00","#99ff00","#e0ff00","#ffee00","#ffa500","#ff7200","#ff3300","#ff0000"]}}}},
{"mark":{"type":"rect","opacity":0},"encoding":{"x":{"datum":0,"type":"quantitative","scale":{"domain":[-2.409,37.5],"nice":false,"zero":false},"axis":{"orient":"bottom","zindex":1,"values":[-1.389,-0.278,1.944,3.056,4.167,5.278,7.5,8.611,9.722,10.833,13.056,14.167,15.278,16.389,18.611,19.722,20.833,21.944,24.167,25.278,26.389,27.5,29.722,30.833,31.944,33.056,35.278,36.389],"tickSize":-3.5,"labels":false,"title":null}},"y":{"datum":0,"type":"quantitative","scale":{"domain":[-2.54,37.4],"nice":false,"zero":false},"axis":{"orient":"left","zindex":1,"values":[-2.476,-1.304,1.038,2.21,3.381,4.552,6.894,8.065,9.236,10.408,12.75,13.92,15.09,16.26,18.6,19.78,20.95,22.12,24.46,25.63,26.8,27.98,30.32,31.49,32.66,33.83,36.17,37.34],"tickSize":-6,"labels":false,"title":null}}}},
{"mark":{"type":"text","font":"Liberation Sans","fontWeight":"bold","fontSize":19.5,"text":"Normal"},"encoding":{"x":{"datum":17.4,"type":"quantitative","scale":{"domain":[-2.409,37.5],"nice":false,"zero":false},"axis":null},"y":{"datum":36.2,"type":"quantitative","scale":{"domain":[-2.54,37.4],"nice":false,"zero":false},"axis":null}}},
{"mark":{"type":"rect","filled":false,"stroke":"#000","strokeWidth":1.4},"encoding":{"x":{"datum":-2.409,"type":"quantitative","scale":{"domain":[-2.409,37.5],"nice":false,"zero":false},"axis":null},"x2":{"datum":37.5},"y":{"datum":-2.54,"type":"quantitative","scale":{"domain":[-2.54,37.4],"nice":false,"zero":false},"axis":null},"y2":{"datum":37.4}}}
]},
{"width":26,"height":294,"data":{"name":"lev"},"resolve":{"axis":{"y":"independent"}},"layer":[
{"mark":{"type":"rect"},"encoding":{"x":{"datum":0,"type":"quantitative","scale":{"domain":[0,1]},"axis":null},"x2":{"datum":1},"y":{"field":"lo","type":"quantitative","scale":{"type":"log","domain":[0.0776,78.1],"nice":false},"title":null,"axis":{"orient":"right","zindex":1,"domain":true,"domainColor":"#000","domainWidth":1.4,"values":[0.1,1,10],"tickSize":-13,"labelPadding":18,"labelExpr":"datum.value==1?'1':'10'"}},"y2":{"field":"hi"},"color":{"field":"v","type":"quantitative","legend":null,"scale":{"type":"threshold","domain":[0.05,0.11,0.155,0.219,0.309,0.437,0.618,0.873,1.233,1.742,2.46,3.48,4.91,6.94,9.81,13.9,19.6,27.7,39.1,55.3],"range":["#ffffff","#6600ff","#2a00ff","#0010ff","#0050ff","#0090ff","#00bfff","#00ffff","#00ffcc","#00ff99","#00ff66","#00ff11","#22ff00","#66ff00","#99ff00","#e0ff00","#ffee00","#ffa500","#ff7200","#ff3300","#ff0000"]}}}},
{"mark":{"type":"rect","opacity":0},"encoding":{"y":{"field":"lo","type":"quantitative","scale":{"type":"log","domain":[0.0776,78.1],"nice":false},"axis":{"orient":"right","zindex":1,"values":[0.08,0.09,0.2,0.3,0.4,0.5,0.6,0.7,0.8,0.9,2,3,4,5,6,7,8,9,20,30,40,50,60,70],"tickSize":-7,"labels":false,"title":null}}}}
]},
{"width":78,"height":294,"data":{"values":[]},"mark":{"type":"rect","opacity":0},"encoding":{}},
{"width":439,"height":294,"data":{"name":"one"},"resolve":{"axis":{"x":"independent","y":"independent"}},"layer":[
{"mark":{"type":"rect","fill":"#fff"},"encoding":{"x":{"datum":-7.409,"type":"quantitative","scale":{"domain":[-2.409,37.5],"nice":false,"zero":false},"axis":null},"x2":{"datum":42.68},"y":{"datum":42.44,"type":"quantitative","scale":{"domain":[-2.54,37.4],"nice":false,"zero":false},"axis":null},"y2":{"datum":-7.97}}},
{"mark":{"type":"rect","fill":"#a8a8a8"},"encoding":{"x":{"datum":-7.318,"type":"quantitative","scale":{"domain":[-2.409,37.5],"nice":false,"zero":false},"axis":null},"x2":{"datum":42.59},"y":{"datum":42.44,"type":"quantitative","scale":{"domain":[-2.54,37.4],"nice":false,"zero":false},"axis":null},"y2":{"datum":-7.75}}},
{"mark":{"type":"rect","fill":"#f2f2f2"},"encoding":{"x":{"datum":-7.227,"type":"quantitative","scale":{"domain":[-2.409,37.5],"nice":false,"zero":false},"axis":null},"x2":{"datum":42.32},"y":{"datum":42.3,"type":"quantitative","scale":{"domain":[-2.54,37.4],"nice":false,"zero":false},"axis":null},"y2":{"datum":-7.44}}},
{"mark":{"type":"rect","fill":"#000"},"encoding":{"x":{"datum":-6.88,"type":"quantitative","scale":{"domain":[-2.409,37.5],"nice":false,"zero":false},"axis":null},"x2":{"datum":28.19},"y":{"datum":42.03,"type":"quantitative","scale":{"domain":[-2.54,37.4],"nice":false,"zero":false},"axis":null},"y2":{"datum":39.24}}},
{"mark":{"type":"rect","fill":"#f2f2f2","stroke":"#000","strokeWidth":1},"encoding":{"x":{"datum":-7.018,"type":"quantitative","scale":{"domain":[-2.409,37.5],"nice":false,"zero":false},"axis":null},"x2":{"datum":28.05},"y":{"datum":42.2,"type":"quantitative","scale":{"domain":[-2.54,37.4],"nice":false,"zero":false},"axis":null},"y2":{"datum":39.45}}},
{"mark":{"type":"text","font":"Liberation Sans","fontWeight":"bold","fontSize":4.7,"text":"rDgg/Dgg:rPhigg (abs(x[1]-3.5)<2.5 && abs(x[2]-3.5)<2.5 && abs(y[1]-3.5)<2.5 && abs(y[2]-3.5)<2.5 && Nphoton==2 && abs(Dgg/Dgg-1)<0.15)"},"encoding":{"x":{"datum":10.41,"type":"quantitative","scale":{"domain":[-2.409,37.5],"nice":false,"zero":false},"axis":null},"y":{"datum":40.94,"type":"quantitative","scale":{"domain":[-2.54,37.4],"nice":false,"zero":false},"axis":null}}},
{"data":{"name":"b"},"mark":{"type":"rect","width":11.1,"height":7.5},"encoding":{"x":{"field":"i","type":"quantitative","scale":{"domain":[-2.409,37.5],"nice":false,"zero":false},"title":"rPhigg","axis":{"orient":"bottom","zindex":1,"values":[0.833,6.389,11.944,17.5,23.056,28.611,34.167],"tickSize":-7,"labelPadding":10,"labelExpr":"toString(round((datum.value+0.5)*0.18-3.24))","titleAnchor":"end","titleBaseline":"alphabetic","titleY":26}},"y":{"field":"j","type":"quantitative","scale":{"domain":[-2.54,37.4],"nice":false,"zero":false},"title":"rDgg/Dgg","axis":{"orient":"left","zindex":1,"values":[-0.133,5.723,11.579,17.435,23.291,29.147,35.003],"tickSize":-12,"labelPadding":17,"labelExpr":"toString(round((0.85+(datum.value+0.133)/117.12)*100)/100)","titleAnchor":"end","titleBaseline":"alphabetic","titleX":-32}},"color":{"field":"v","type":"quantitative","legend":null,"scale":{"type":"threshold","domain":[0.05,0.11,0.155,0.219,0.309,0.437,0.618,0.873,1.233,1.742,2.46,3.48,4.91,6.94,9.81,13.9,19.6,27.7,39.1,55.3],"range":["#f2f2f2","#6600ff","#2a00ff","#0010ff","#0050ff","#0090ff","#00bfff","#00ffff","#00ffcc","#00ff99","#00ff66","#00ff11","#22ff00","#66ff00","#99ff00","#e0ff00","#ffee00","#ffa500","#ff7200","#ff3300","#ff0000"]}}}},
{"mark":{"type":"rect","opacity":0},"encoding":{"x":{"datum":0,"type":"quantitative","scale":{"domain":[-2.409,37.5],"nice":false,"zero":false},"axis":{"orient":"bottom","zindex":1,"values":[-1.389,-0.278,1.944,3.056,4.167,5.278,7.5,8.611,9.722,10.833,13.056,14.167,15.278,16.389,18.611,19.722,20.833,21.944,24.167,25.278,26.389,27.5,29.722,30.833,31.944,33.056,35.278,36.389],"tickSize":-3.5,"labels":false,"title":null}},"y":{"datum":0,"type":"quantitative","scale":{"domain":[-2.54,37.4],"nice":false,"zero":false},"axis":{"orient":"left","zindex":1,"values":[-2.476,-1.304,1.038,2.21,3.381,4.552,6.894,8.065,9.236,10.408,12.75,13.92,15.09,16.26,18.6,19.78,20.95,22.12,24.46,25.63,26.8,27.98,30.32,31.49,32.66,33.83,36.17,37.34],"tickSize":-6,"labels":false,"title":null}}}},
{"mark":{"type":"text","font":"Liberation Sans","fontWeight":"bold","fontSize":19.5,"text":"Projective"},"encoding":{"x":{"datum":18,"type":"quantitative","scale":{"domain":[-2.409,37.5],"nice":false,"zero":false},"axis":null},"y":{"datum":36.3,"type":"quantitative","scale":{"domain":[-2.54,37.4],"nice":false,"zero":false},"axis":null}}},
{"mark":{"type":"rect","filled":false,"stroke":"#000","strokeWidth":1.4},"encoding":{"x":{"datum":-2.409,"type":"quantitative","scale":{"domain":[-2.409,37.5],"nice":false,"zero":false},"axis":null},"x2":{"datum":37.5},"y":{"datum":-2.54,"type":"quantitative","scale":{"domain":[-2.54,37.4],"nice":false,"zero":false},"axis":null},"y2":{"datum":37.4}}}
]},
{"width":26,"height":294,"data":{"name":"lev"},"resolve":{"axis":{"y":"independent"}},"layer":[
{"mark":{"type":"rect"},"encoding":{"x":{"datum":0,"type":"quantitative","scale":{"domain":[0,1]},"axis":null},"x2":{"datum":1},"y":{"field":"lo","type":"quantitative","scale":{"type":"log","domain":[0.0776,78.1],"nice":false},"title":null,"axis":{"orient":"right","zindex":1,"domain":true,"domainColor":"#000","domainWidth":1.4,"values":[0.1,1,10],"tickSize":-13,"labelPadding":18,"labelExpr":"datum.value==1?'1':'10'"}},"y2":{"field":"hi"},"color":{"field":"v","type":"quantitative","legend":null,"scale":{"type":"threshold","domain":[0.05,0.11,0.155,0.219,0.309,0.437,0.618,0.873,1.233,1.742,2.46,3.48,4.91,6.94,9.81,13.9,19.6,27.7,39.1,55.3],"range":["#f2f2f2","#6600ff","#2a00ff","#0010ff","#0050ff","#0090ff","#00bfff","#00ffff","#00ffcc","#00ff99","#00ff66","#00ff11","#22ff00","#66ff00","#99ff00","#e0ff00","#ffee00","#ffa500","#ff7200","#ff3300","#ff0000"]}}}},
{"mark":{"type":"rect","opacity":0},"encoding":{"y":{"field":"lo","type":"quantitative","scale":{"type":"log","domain":[0.0776,78.1],"nice":false},"axis":{"orient":"right","zindex":1,"values":[0.08,0.09,0.2,0.3,0.4,0.5,0.6,0.7,0.8,0.9,2,3,4,5,6,7,8,9,20,30,40,50,60,70],"tickSize":-7,"labels":false,"title":null}}}}
]}
]}
